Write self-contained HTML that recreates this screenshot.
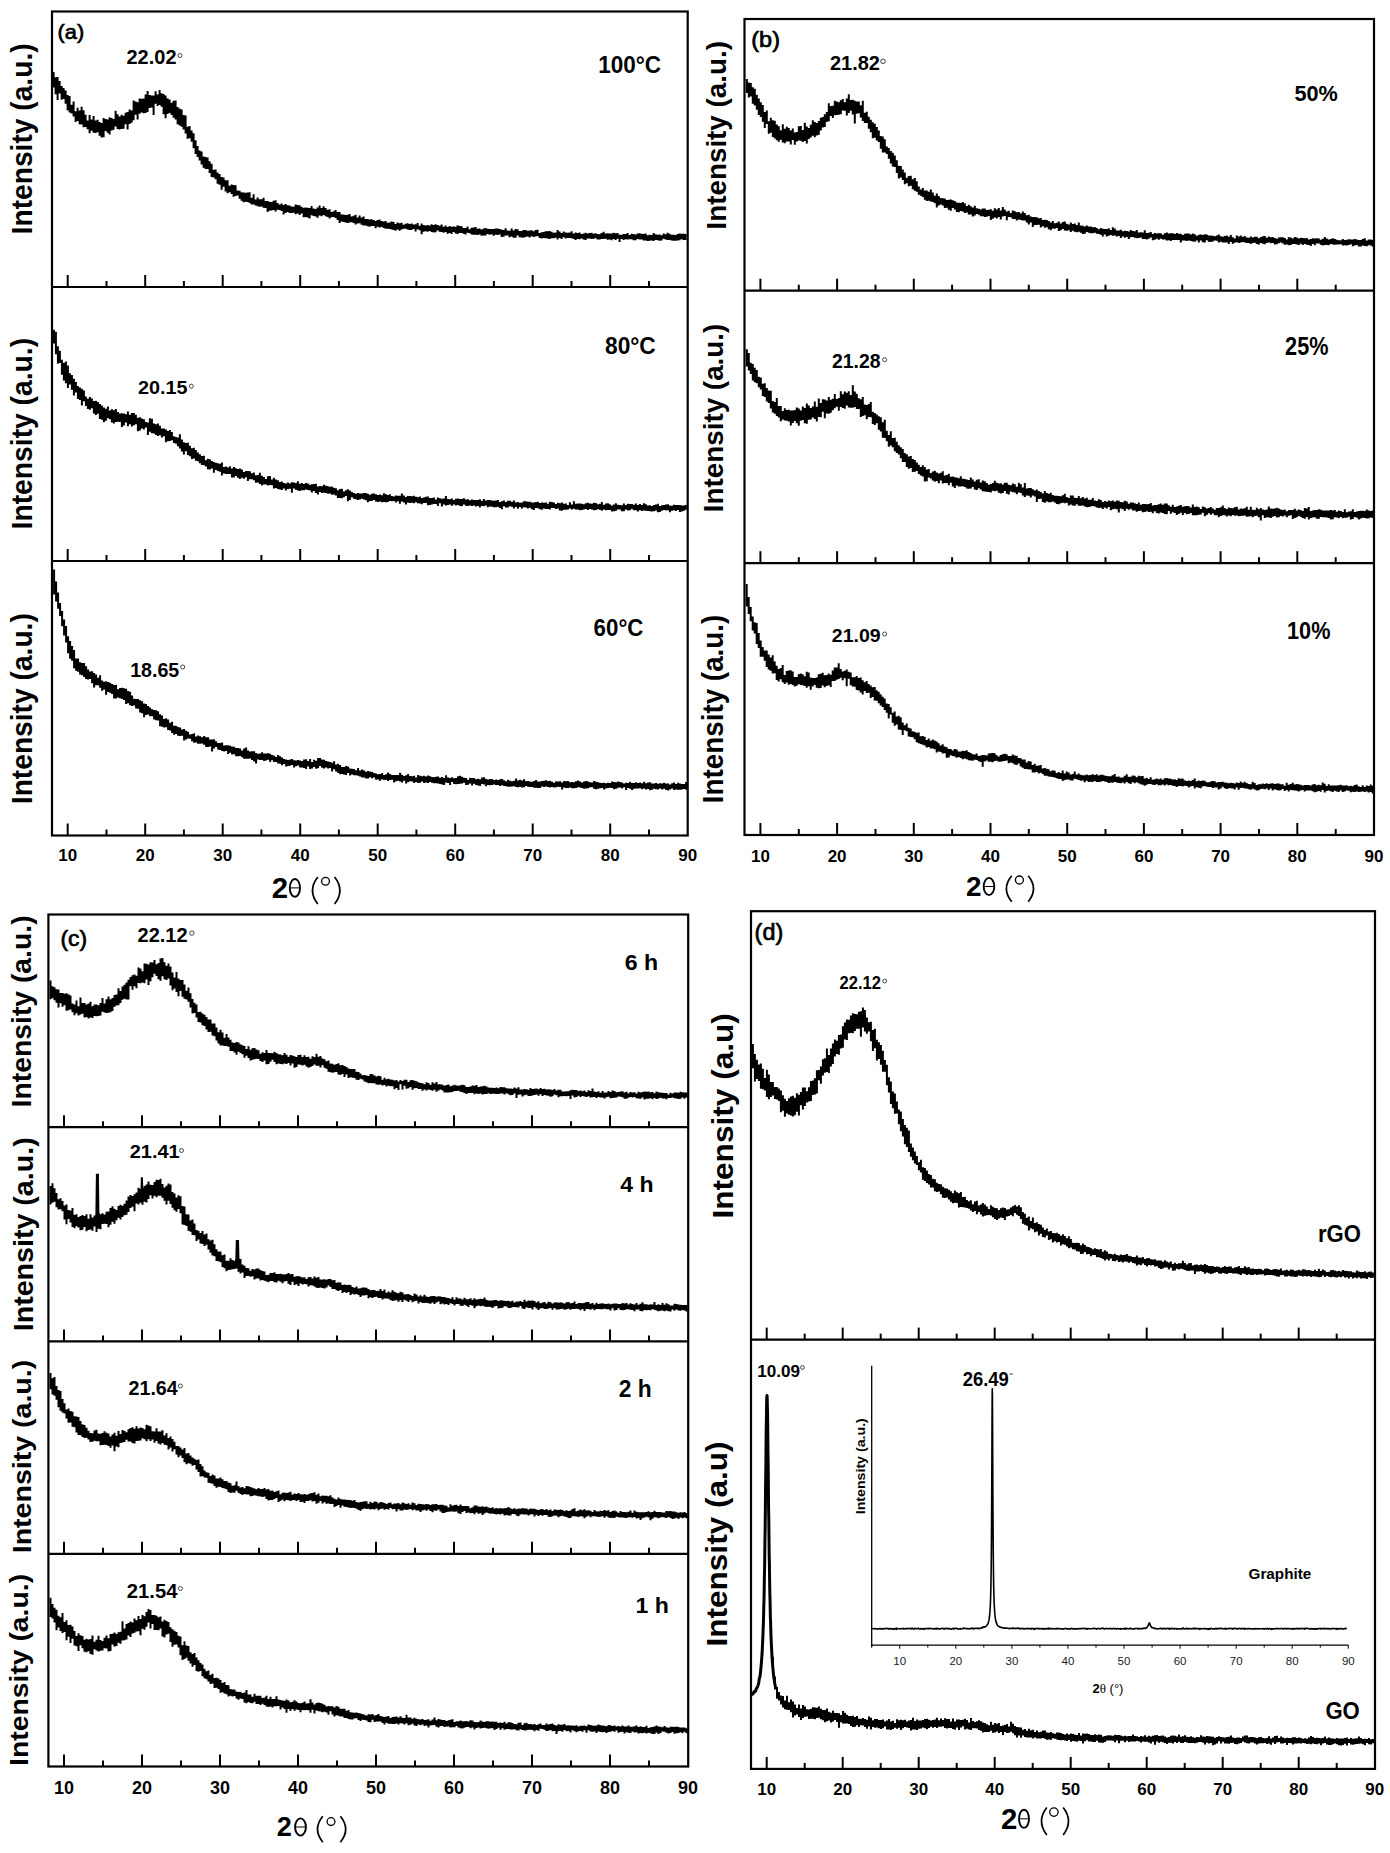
<!DOCTYPE html>
<html><head><meta charset="utf-8"><title>XRD patterns</title>
<style>
html,body{margin:0;padding:0;background:#fff;}
body{width:1390px;height:1853px;overflow:hidden;}
svg{display:block;font-family:"Liberation Sans", sans-serif;}
</style></head><body>
<svg width="1390" height="1853" viewBox="0 0 1390 1853" stroke="#000" fill="#000">
<rect x="52" y="11.5" width="635.7" height="824" fill="none" stroke-width="2.2"/>
<line x1="52" y1="287" x2="687.7" y2="287" stroke-width="2.2"/>
<line x1="52" y1="561" x2="687.7" y2="561" stroke-width="2.2"/>
<line x1="67.7" y1="287" x2="67.7" y2="275" stroke-width="2"/>
<line x1="106.5" y1="287" x2="106.5" y2="281" stroke-width="2"/>
<line x1="145.2" y1="287" x2="145.2" y2="275" stroke-width="2"/>
<line x1="183.9" y1="287" x2="183.9" y2="281" stroke-width="2"/>
<line x1="222.7" y1="287" x2="222.7" y2="275" stroke-width="2"/>
<line x1="261.4" y1="287" x2="261.4" y2="281" stroke-width="2"/>
<line x1="300.2" y1="287" x2="300.2" y2="275" stroke-width="2"/>
<line x1="338.9" y1="287" x2="338.9" y2="281" stroke-width="2"/>
<line x1="377.7" y1="287" x2="377.7" y2="275" stroke-width="2"/>
<line x1="416.4" y1="287" x2="416.4" y2="281" stroke-width="2"/>
<line x1="455.2" y1="287" x2="455.2" y2="275" stroke-width="2"/>
<line x1="493.9" y1="287" x2="493.9" y2="281" stroke-width="2"/>
<line x1="532.7" y1="287" x2="532.7" y2="275" stroke-width="2"/>
<line x1="571.5" y1="287" x2="571.5" y2="281" stroke-width="2"/>
<line x1="610.2" y1="287" x2="610.2" y2="275" stroke-width="2"/>
<line x1="649" y1="287" x2="649" y2="281" stroke-width="2"/>
<line x1="67.7" y1="561" x2="67.7" y2="549" stroke-width="2"/>
<line x1="106.5" y1="561" x2="106.5" y2="555" stroke-width="2"/>
<line x1="145.2" y1="561" x2="145.2" y2="549" stroke-width="2"/>
<line x1="183.9" y1="561" x2="183.9" y2="555" stroke-width="2"/>
<line x1="222.7" y1="561" x2="222.7" y2="549" stroke-width="2"/>
<line x1="261.4" y1="561" x2="261.4" y2="555" stroke-width="2"/>
<line x1="300.2" y1="561" x2="300.2" y2="549" stroke-width="2"/>
<line x1="338.9" y1="561" x2="338.9" y2="555" stroke-width="2"/>
<line x1="377.7" y1="561" x2="377.7" y2="549" stroke-width="2"/>
<line x1="416.4" y1="561" x2="416.4" y2="555" stroke-width="2"/>
<line x1="455.2" y1="561" x2="455.2" y2="549" stroke-width="2"/>
<line x1="493.9" y1="561" x2="493.9" y2="555" stroke-width="2"/>
<line x1="532.7" y1="561" x2="532.7" y2="549" stroke-width="2"/>
<line x1="571.5" y1="561" x2="571.5" y2="555" stroke-width="2"/>
<line x1="610.2" y1="561" x2="610.2" y2="549" stroke-width="2"/>
<line x1="649" y1="561" x2="649" y2="555" stroke-width="2"/>
<line x1="67.7" y1="835.5" x2="67.7" y2="823.5" stroke-width="2"/>
<line x1="106.5" y1="835.5" x2="106.5" y2="829.5" stroke-width="2"/>
<line x1="145.2" y1="835.5" x2="145.2" y2="823.5" stroke-width="2"/>
<line x1="183.9" y1="835.5" x2="183.9" y2="829.5" stroke-width="2"/>
<line x1="222.7" y1="835.5" x2="222.7" y2="823.5" stroke-width="2"/>
<line x1="261.4" y1="835.5" x2="261.4" y2="829.5" stroke-width="2"/>
<line x1="300.2" y1="835.5" x2="300.2" y2="823.5" stroke-width="2"/>
<line x1="338.9" y1="835.5" x2="338.9" y2="829.5" stroke-width="2"/>
<line x1="377.7" y1="835.5" x2="377.7" y2="823.5" stroke-width="2"/>
<line x1="416.4" y1="835.5" x2="416.4" y2="829.5" stroke-width="2"/>
<line x1="455.2" y1="835.5" x2="455.2" y2="823.5" stroke-width="2"/>
<line x1="493.9" y1="835.5" x2="493.9" y2="829.5" stroke-width="2"/>
<line x1="532.7" y1="835.5" x2="532.7" y2="823.5" stroke-width="2"/>
<line x1="571.5" y1="835.5" x2="571.5" y2="829.5" stroke-width="2"/>
<line x1="610.2" y1="835.5" x2="610.2" y2="823.5" stroke-width="2"/>
<line x1="649" y1="835.5" x2="649" y2="829.5" stroke-width="2"/>
<rect x="744.5" y="19" width="629.5" height="816" fill="none" stroke-width="2.2"/>
<line x1="744.5" y1="290.7" x2="1374" y2="290.7" stroke-width="2.2"/>
<line x1="744.5" y1="563.2" x2="1374" y2="563.2" stroke-width="2.2"/>
<line x1="760.4" y1="290.7" x2="760.4" y2="278.7" stroke-width="2"/>
<line x1="798.8" y1="290.7" x2="798.8" y2="284.7" stroke-width="2"/>
<line x1="837.1" y1="290.7" x2="837.1" y2="278.7" stroke-width="2"/>
<line x1="875.5" y1="290.7" x2="875.5" y2="284.7" stroke-width="2"/>
<line x1="913.8" y1="290.7" x2="913.8" y2="278.7" stroke-width="2"/>
<line x1="952.1" y1="290.7" x2="952.1" y2="284.7" stroke-width="2"/>
<line x1="990.5" y1="290.7" x2="990.5" y2="278.7" stroke-width="2"/>
<line x1="1028.8" y1="290.7" x2="1028.8" y2="284.7" stroke-width="2"/>
<line x1="1067.2" y1="290.7" x2="1067.2" y2="278.7" stroke-width="2"/>
<line x1="1105.5" y1="290.7" x2="1105.5" y2="284.7" stroke-width="2"/>
<line x1="1143.9" y1="290.7" x2="1143.9" y2="278.7" stroke-width="2"/>
<line x1="1182.2" y1="290.7" x2="1182.2" y2="284.7" stroke-width="2"/>
<line x1="1220.6" y1="290.7" x2="1220.6" y2="278.7" stroke-width="2"/>
<line x1="1259" y1="290.7" x2="1259" y2="284.7" stroke-width="2"/>
<line x1="1297.3" y1="290.7" x2="1297.3" y2="278.7" stroke-width="2"/>
<line x1="1335.7" y1="290.7" x2="1335.7" y2="284.7" stroke-width="2"/>
<line x1="760.4" y1="563.2" x2="760.4" y2="551.2" stroke-width="2"/>
<line x1="798.8" y1="563.2" x2="798.8" y2="557.2" stroke-width="2"/>
<line x1="837.1" y1="563.2" x2="837.1" y2="551.2" stroke-width="2"/>
<line x1="875.5" y1="563.2" x2="875.5" y2="557.2" stroke-width="2"/>
<line x1="913.8" y1="563.2" x2="913.8" y2="551.2" stroke-width="2"/>
<line x1="952.1" y1="563.2" x2="952.1" y2="557.2" stroke-width="2"/>
<line x1="990.5" y1="563.2" x2="990.5" y2="551.2" stroke-width="2"/>
<line x1="1028.8" y1="563.2" x2="1028.8" y2="557.2" stroke-width="2"/>
<line x1="1067.2" y1="563.2" x2="1067.2" y2="551.2" stroke-width="2"/>
<line x1="1105.5" y1="563.2" x2="1105.5" y2="557.2" stroke-width="2"/>
<line x1="1143.9" y1="563.2" x2="1143.9" y2="551.2" stroke-width="2"/>
<line x1="1182.2" y1="563.2" x2="1182.2" y2="557.2" stroke-width="2"/>
<line x1="1220.6" y1="563.2" x2="1220.6" y2="551.2" stroke-width="2"/>
<line x1="1259" y1="563.2" x2="1259" y2="557.2" stroke-width="2"/>
<line x1="1297.3" y1="563.2" x2="1297.3" y2="551.2" stroke-width="2"/>
<line x1="1335.7" y1="563.2" x2="1335.7" y2="557.2" stroke-width="2"/>
<line x1="760.4" y1="835" x2="760.4" y2="823" stroke-width="2"/>
<line x1="798.8" y1="835" x2="798.8" y2="829" stroke-width="2"/>
<line x1="837.1" y1="835" x2="837.1" y2="823" stroke-width="2"/>
<line x1="875.5" y1="835" x2="875.5" y2="829" stroke-width="2"/>
<line x1="913.8" y1="835" x2="913.8" y2="823" stroke-width="2"/>
<line x1="952.1" y1="835" x2="952.1" y2="829" stroke-width="2"/>
<line x1="990.5" y1="835" x2="990.5" y2="823" stroke-width="2"/>
<line x1="1028.8" y1="835" x2="1028.8" y2="829" stroke-width="2"/>
<line x1="1067.2" y1="835" x2="1067.2" y2="823" stroke-width="2"/>
<line x1="1105.5" y1="835" x2="1105.5" y2="829" stroke-width="2"/>
<line x1="1143.9" y1="835" x2="1143.9" y2="823" stroke-width="2"/>
<line x1="1182.2" y1="835" x2="1182.2" y2="829" stroke-width="2"/>
<line x1="1220.6" y1="835" x2="1220.6" y2="823" stroke-width="2"/>
<line x1="1259" y1="835" x2="1259" y2="829" stroke-width="2"/>
<line x1="1297.3" y1="835" x2="1297.3" y2="823" stroke-width="2"/>
<line x1="1335.7" y1="835" x2="1335.7" y2="829" stroke-width="2"/>
<rect x="48.4" y="914.5" width="639.8" height="852" fill="none" stroke-width="2.2"/>
<line x1="48.4" y1="1127.2" x2="688.2" y2="1127.2" stroke-width="2.2"/>
<line x1="48.4" y1="1341.4" x2="688.2" y2="1341.4" stroke-width="2.2"/>
<line x1="48.4" y1="1553.8" x2="688.2" y2="1553.8" stroke-width="2.2"/>
<line x1="64" y1="1127.2" x2="64" y2="1115.2" stroke-width="2"/>
<line x1="103" y1="1127.2" x2="103" y2="1121.2" stroke-width="2"/>
<line x1="142" y1="1127.2" x2="142" y2="1115.2" stroke-width="2"/>
<line x1="181" y1="1127.2" x2="181" y2="1121.2" stroke-width="2"/>
<line x1="220" y1="1127.2" x2="220" y2="1115.2" stroke-width="2"/>
<line x1="259" y1="1127.2" x2="259" y2="1121.2" stroke-width="2"/>
<line x1="298" y1="1127.2" x2="298" y2="1115.2" stroke-width="2"/>
<line x1="337" y1="1127.2" x2="337" y2="1121.2" stroke-width="2"/>
<line x1="376" y1="1127.2" x2="376" y2="1115.2" stroke-width="2"/>
<line x1="415" y1="1127.2" x2="415" y2="1121.2" stroke-width="2"/>
<line x1="454" y1="1127.2" x2="454" y2="1115.2" stroke-width="2"/>
<line x1="493" y1="1127.2" x2="493" y2="1121.2" stroke-width="2"/>
<line x1="532" y1="1127.2" x2="532" y2="1115.2" stroke-width="2"/>
<line x1="571" y1="1127.2" x2="571" y2="1121.2" stroke-width="2"/>
<line x1="610" y1="1127.2" x2="610" y2="1115.2" stroke-width="2"/>
<line x1="649" y1="1127.2" x2="649" y2="1121.2" stroke-width="2"/>
<line x1="64" y1="1341.4" x2="64" y2="1329.4" stroke-width="2"/>
<line x1="103" y1="1341.4" x2="103" y2="1335.4" stroke-width="2"/>
<line x1="142" y1="1341.4" x2="142" y2="1329.4" stroke-width="2"/>
<line x1="181" y1="1341.4" x2="181" y2="1335.4" stroke-width="2"/>
<line x1="220" y1="1341.4" x2="220" y2="1329.4" stroke-width="2"/>
<line x1="259" y1="1341.4" x2="259" y2="1335.4" stroke-width="2"/>
<line x1="298" y1="1341.4" x2="298" y2="1329.4" stroke-width="2"/>
<line x1="337" y1="1341.4" x2="337" y2="1335.4" stroke-width="2"/>
<line x1="376" y1="1341.4" x2="376" y2="1329.4" stroke-width="2"/>
<line x1="415" y1="1341.4" x2="415" y2="1335.4" stroke-width="2"/>
<line x1="454" y1="1341.4" x2="454" y2="1329.4" stroke-width="2"/>
<line x1="493" y1="1341.4" x2="493" y2="1335.4" stroke-width="2"/>
<line x1="532" y1="1341.4" x2="532" y2="1329.4" stroke-width="2"/>
<line x1="571" y1="1341.4" x2="571" y2="1335.4" stroke-width="2"/>
<line x1="610" y1="1341.4" x2="610" y2="1329.4" stroke-width="2"/>
<line x1="649" y1="1341.4" x2="649" y2="1335.4" stroke-width="2"/>
<line x1="64" y1="1553.8" x2="64" y2="1541.8" stroke-width="2"/>
<line x1="103" y1="1553.8" x2="103" y2="1547.8" stroke-width="2"/>
<line x1="142" y1="1553.8" x2="142" y2="1541.8" stroke-width="2"/>
<line x1="181" y1="1553.8" x2="181" y2="1547.8" stroke-width="2"/>
<line x1="220" y1="1553.8" x2="220" y2="1541.8" stroke-width="2"/>
<line x1="259" y1="1553.8" x2="259" y2="1547.8" stroke-width="2"/>
<line x1="298" y1="1553.8" x2="298" y2="1541.8" stroke-width="2"/>
<line x1="337" y1="1553.8" x2="337" y2="1547.8" stroke-width="2"/>
<line x1="376" y1="1553.8" x2="376" y2="1541.8" stroke-width="2"/>
<line x1="415" y1="1553.8" x2="415" y2="1547.8" stroke-width="2"/>
<line x1="454" y1="1553.8" x2="454" y2="1541.8" stroke-width="2"/>
<line x1="493" y1="1553.8" x2="493" y2="1547.8" stroke-width="2"/>
<line x1="532" y1="1553.8" x2="532" y2="1541.8" stroke-width="2"/>
<line x1="571" y1="1553.8" x2="571" y2="1547.8" stroke-width="2"/>
<line x1="610" y1="1553.8" x2="610" y2="1541.8" stroke-width="2"/>
<line x1="649" y1="1553.8" x2="649" y2="1547.8" stroke-width="2"/>
<line x1="64" y1="1766.5" x2="64" y2="1754.5" stroke-width="2"/>
<line x1="103" y1="1766.5" x2="103" y2="1760.5" stroke-width="2"/>
<line x1="142" y1="1766.5" x2="142" y2="1754.5" stroke-width="2"/>
<line x1="181" y1="1766.5" x2="181" y2="1760.5" stroke-width="2"/>
<line x1="220" y1="1766.5" x2="220" y2="1754.5" stroke-width="2"/>
<line x1="259" y1="1766.5" x2="259" y2="1760.5" stroke-width="2"/>
<line x1="298" y1="1766.5" x2="298" y2="1754.5" stroke-width="2"/>
<line x1="337" y1="1766.5" x2="337" y2="1760.5" stroke-width="2"/>
<line x1="376" y1="1766.5" x2="376" y2="1754.5" stroke-width="2"/>
<line x1="415" y1="1766.5" x2="415" y2="1760.5" stroke-width="2"/>
<line x1="454" y1="1766.5" x2="454" y2="1754.5" stroke-width="2"/>
<line x1="493" y1="1766.5" x2="493" y2="1760.5" stroke-width="2"/>
<line x1="532" y1="1766.5" x2="532" y2="1754.5" stroke-width="2"/>
<line x1="571" y1="1766.5" x2="571" y2="1760.5" stroke-width="2"/>
<line x1="610" y1="1766.5" x2="610" y2="1754.5" stroke-width="2"/>
<line x1="649" y1="1766.5" x2="649" y2="1760.5" stroke-width="2"/>
<rect x="751" y="911.2" width="624" height="857.7" fill="none" stroke-width="2.2"/>
<line x1="751" y1="1339.6" x2="1375" y2="1339.6" stroke-width="2.2"/>
<line x1="766.7" y1="1339.6" x2="766.7" y2="1327.6" stroke-width="2"/>
<line x1="804.7" y1="1339.6" x2="804.7" y2="1333.6" stroke-width="2"/>
<line x1="842.7" y1="1339.6" x2="842.7" y2="1327.6" stroke-width="2"/>
<line x1="880.7" y1="1339.6" x2="880.7" y2="1333.6" stroke-width="2"/>
<line x1="918.7" y1="1339.6" x2="918.7" y2="1327.6" stroke-width="2"/>
<line x1="956.7" y1="1339.6" x2="956.7" y2="1333.6" stroke-width="2"/>
<line x1="994.7" y1="1339.6" x2="994.7" y2="1327.6" stroke-width="2"/>
<line x1="1032.7" y1="1339.6" x2="1032.7" y2="1333.6" stroke-width="2"/>
<line x1="1070.7" y1="1339.6" x2="1070.7" y2="1327.6" stroke-width="2"/>
<line x1="1108.7" y1="1339.6" x2="1108.7" y2="1333.6" stroke-width="2"/>
<line x1="1146.7" y1="1339.6" x2="1146.7" y2="1327.6" stroke-width="2"/>
<line x1="1184.7" y1="1339.6" x2="1184.7" y2="1333.6" stroke-width="2"/>
<line x1="1222.7" y1="1339.6" x2="1222.7" y2="1327.6" stroke-width="2"/>
<line x1="1260.7" y1="1339.6" x2="1260.7" y2="1333.6" stroke-width="2"/>
<line x1="1298.7" y1="1339.6" x2="1298.7" y2="1327.6" stroke-width="2"/>
<line x1="1336.7" y1="1339.6" x2="1336.7" y2="1333.6" stroke-width="2"/>
<line x1="766.7" y1="1768.9" x2="766.7" y2="1756.9" stroke-width="2"/>
<line x1="804.7" y1="1768.9" x2="804.7" y2="1762.9" stroke-width="2"/>
<line x1="842.7" y1="1768.9" x2="842.7" y2="1756.9" stroke-width="2"/>
<line x1="880.7" y1="1768.9" x2="880.7" y2="1762.9" stroke-width="2"/>
<line x1="918.7" y1="1768.9" x2="918.7" y2="1756.9" stroke-width="2"/>
<line x1="956.7" y1="1768.9" x2="956.7" y2="1762.9" stroke-width="2"/>
<line x1="994.7" y1="1768.9" x2="994.7" y2="1756.9" stroke-width="2"/>
<line x1="1032.7" y1="1768.9" x2="1032.7" y2="1762.9" stroke-width="2"/>
<line x1="1070.7" y1="1768.9" x2="1070.7" y2="1756.9" stroke-width="2"/>
<line x1="1108.7" y1="1768.9" x2="1108.7" y2="1762.9" stroke-width="2"/>
<line x1="1146.7" y1="1768.9" x2="1146.7" y2="1756.9" stroke-width="2"/>
<line x1="1184.7" y1="1768.9" x2="1184.7" y2="1762.9" stroke-width="2"/>
<line x1="1222.7" y1="1768.9" x2="1222.7" y2="1756.9" stroke-width="2"/>
<line x1="1260.7" y1="1768.9" x2="1260.7" y2="1762.9" stroke-width="2"/>
<line x1="1298.7" y1="1768.9" x2="1298.7" y2="1756.9" stroke-width="2"/>
<line x1="1336.7" y1="1768.9" x2="1336.7" y2="1762.9" stroke-width="2"/>
<path d="M52.6,72.1h2V77.2h2V77h2V81h2V85.9h2V88.1h2V90.4h2V95.1h2V95.9h2V104.7h2V101.6h2V111.2h2V107.8h2V110.4h2V106.8h2V110.2h2V114.7h2V120.4h2V114.9h2V119.4h2V115.9h2V120.5h2V119.8h2V121.9h2V122.9h2V117.9h2V119.1h2V119.6h2V117.3h2V118h2V119.1h2V110.8h2V114.2h2V116.5h2V114.8h2V115.7h2V112.7h2V112.1h2V109.5h2V110.4h2V100.4h2V101.5h2V102.2h2V98.5h2V98.7h2V98.5h2V94.6h2V90.9h2V94.9h2V95.5h2V95.4h2V91.2h2V94.6h2V90.1h2V93.2h2V94h2V95.6h2V98.6h2V99.5h2V102.8h2V100.7h2V100.5h2V107.1h2V108.6h2V109.6h2V115h2V115.6h2V126.8h2V125.9h2V130.6h2V133.3h2V140.2h2V145.9h2V150.4h2V151.6h2V156.4h2V157h2V157.5h2V161.2h2V163.7h2V169.8h2V169.4h2V172.6h2V174.1h2V177h2V177.6h2V180.2h2V180.3h2V185.7h2V184.5h2V185.1h2V185.3h2V190.5h2V190.8h2V192.2h2V192.5h2V192.7h2V192.5h2V192.3h2V197.8h2V194.2h2V199.6h2V197.6h2V199.2h2V199.2h2V197.7h2V201h2V201h2V201.7h2V202h2V200.7h2V200.2h2V203h2V204.5h2V203.6h2V204.9h2V204.1h2V205.2h2V205.4h2V206.4h2V206.8h2V204.5h2V205h2V205.3h2V206.7h2V207.8h2V207.4h2V207.7h2V208.1h2V206h2V208.6h2V209.1h2V207.5h2V205.4h2V207.9h2V206.3h2V208.1h2V209.8h2V209.2h2V212.1h2V211.3h2V209.9h2V212.1h2V212.1h2V214.5h2V214.4h2V214.9h2V214.8h2V214h2V216.5h2V215.8h2V214.8h2V217.6h2V215.6h2V217.6h2V216.5h2V219h2V218.9h2V219.4h2V219.2h2V220.1h2V221h2V220h2V219.6h2V221.1h2V221.4h2V220.9h2V222.8h2V222.6h2V221.6h2V221.9h2V223.9h2V222.6h2V223.3h2V222.8h2V224.7h2V223.7h2V223.2h2V224.1h2V223.5h2V224.5h2V224.3h2V223.1h2V225.8h2V223.5h2V224.9h2V225.6h2V225.1h2V225.5h2V224.2h2V224.9h2V224.3h2V225.1h2V225.7h2V224.5h2V226.7h2V225.4h2V227.1h2V226.1h2V226.8h2V226.4h2V226.8h2V225.3h2V226.1h2V226.3h2V227.9h2V227.9h2V226.4h2V229.2h2V227.7h2V227.4h2V226.9h2V228.7h2V228.6h2V229.5h2V228.4h2V228.1h2V228.7h2V229.1h2V229h2V229.1h2V228.5h2V228.6h2V228.9h2V229.6h2V230.1h2V228.3h2V230.5h2V230.7h2V228.5h2V230.4h2V228.9h2V229.3h2V231h2V230.9h2V229.9h2V230.1h2V230.8h2V230.4h2V230.3h2V231.3h2V230h2V229.8h2V233.1h2V232.2h2V231.9h2V231.2h2V231.2h2V230.9h2V231.7h2V232.7h2V232.4h2V230h2V231.5h2V232.9h2V231.4h2V232.6h2V232.7h2V232.4h2V231.2h2V233.5h2V232.6h2V232.9h2V232.5h2V233.9h2V233.6h2V232.7h2V233.6h2V232.9h2V232.8h2V233.7h2V233.2h2V234.1h2V234.3h2V233.1h2V231.7h2V233.4h2V233.3h2V233.4h2V233.5h2V232.7h2V233.3h2V232.9h2V234.7h2V234.8h2V233.9h2V234.1h2V233h2V235h2V233.8h2V234.1h2V234.5h2V233.6h2V233.2h2V233.7h2V234h2V233.6h2V235.3h2V234.7h2V234.9h2V232.9h2V234.3h2V234.7h2V234.5h2V235.2h2V233.5h2V234.3h2V232.7h2V233.7h2V234.7h2V234.8h2V234.9h2V234.1h2V233.5h2V233.8h2V233.7h2V234.1h2V240h-2V240h-2V239.3h-2V240.2h-2V240.5h-2V240.8h-2V240.7h-2V240.5h-2V239.9h-2V240.1h-2V239.6h-2V238.8h-2V240.6h-2V240.8h-2V240.3h-2V239.9h-2V241h-2V240.5h-2V240.8h-2V241h-2V240.5h-2V240.6h-2V239.5h-2V239.4h-2V239.1h-2V240.3h-2V240.3h-2V239.2h-2V239.3h-2V239.6h-2V239.3h-2V240h-2V239.1h-2V242h-2V238.7h-2V239.9h-2V239.1h-2V240.2h-2V239.5h-2V239.7h-2V238.8h-2V239h-2V239.1h-2V239.6h-2V239.4h-2V238.3h-2V238.7h-2V239.1h-2V238.6h-2V238.5h-2V239.9h-2V239.6h-2V238.4h-2V239.3h-2V238.9h-2V239.9h-2V239.1h-2V238.2h-2V238.1h-2V238.1h-2V238.4h-2V237.2h-2V239h-2V237.9h-2V239.5h-2V237.8h-2V238.3h-2V238.3h-2V239.1h-2V238.5h-2V238.2h-2V237.9h-2V238.5h-2V238h-2V235.9h-2V236.6h-2V237h-2V236.2h-2V237.4h-2V236.4h-2V237.1h-2V237.7h-2V237.4h-2V237.2h-2V235.4h-2V237.7h-2V237.8h-2V236.4h-2V237.3h-2V235.5h-2V235.4h-2V236.7h-2V237h-2V234.6h-2V235.1h-2V234.8h-2V235.8h-2V234.3h-2V234.8h-2V234.1h-2V235.5h-2V235.5h-2V235.8h-2V234.5h-2V235.1h-2V234.8h-2V234.7h-2V234.5h-2V233.2h-2V232.7h-2V234.4h-2V233.8h-2V233.1h-2V232.9h-2V233.9h-2V233.5h-2V232.1h-2V234h-2V233.1h-2V233.7h-2V232h-2V232.7h-2V232.1h-2V231.8h-2V230.4h-2V232.2h-2V232.5h-2V232.1h-2V231.1h-2V231.8h-2V231.2h-2V231.7h-2V234.3h-2V230.3h-2V229.3h-2V231.5h-2V228.9h-2V229.9h-2V229.9h-2V229.6h-2V228.7h-2V228.7h-2V229.4h-2V230.8h-2V229.5h-2V230.8h-2V230h-2V229.5h-2V228.9h-2V228.7h-2V228.7h-2V228h-2V226.9h-2V227.5h-2V226.8h-2V228.2h-2V225.9h-2V226.1h-2V226.7h-2V226.3h-2V225.5h-2V225.4h-2V224.8h-2V223.3h-2V223.4h-2V224.5h-2V223.1h-2V222.3h-2V222.4h-2V223.1h-2V222.5h-2V221.9h-2V221.4h-2V223.1h-2V220h-2V217.9h-2V216.9h-2V217.2h-2V218.6h-2V217h-2V216.2h-2V215h-2V216.3h-2V215.5h-2V217.8h-2V216.6h-2V216h-2V215.2h-2V218.4h-2V217.4h-2V217h-2V217.2h-2V213.6h-2V215.1h-2V213.5h-2V214.3h-2V212.7h-2V213h-2V213h-2V212.1h-2V213h-2V214.6h-2V211h-2V210h-2V209.8h-2V211.5h-2V209.9h-2V210.4h-2V210.8h-2V212h-2V208h-2V207.8h-2V206.6h-2V206.7h-2V206.2h-2V205.6h-2V204.6h-2V204.6h-2V203h-2V202.1h-2V201.8h-2V202.2h-2V200.7h-2V198.7h-2V195.4h-2V196.1h-2V196.8h-2V194h-2V192.2h-2V193.3h-2V191.6h-2V186.7h-2V189.7h-2V184.8h-2V183.7h-2V179.3h-2V177.5h-2V177.1h-2V173.1h-2V169.1h-2V169.1h-2V167.8h-2V164.6h-2V160.4h-2V157h-2V154h-2V148.3h-2V141.7h-2V138.3h-2V138.7h-2V133.4h-2V129.4h-2V126.8h-2V125.4h-2V124.3h-2V119.6h-2V117.8h-2V115h-2V113h-2V114h-2V118.3h-2V114.2h-2V106.8h-2V105h-2V106h-2V103.7h-2V115h-2V107.6h-2V108.1h-2V111.9h-2V113h-2V113.2h-2V112.6h-2V113.7h-2V119.4h-2V114.7h-2V120.2h-2V122.8h-2V124h-2V129.4h-2V124.3h-2V128.8h-2V129h-2V129.5h-2V128.9h-2V126.6h-2V129.8h-2V130.6h-2V134.4h-2V132.8h-2V130.9h-2V137.2h-2V137.4h-2V135.7h-2V132.3h-2V132.9h-2V132.7h-2V130.7h-2V133.2h-2V129.3h-2V127h-2V127.2h-2V124.5h-2V124.3h-2V121.1h-2V121.9h-2V116.6h-2V113.4h-2V112.6h-2V110.3h-2V103.8h-2V98.9h-2V99.7h-2V93.6h-2V99.9h-2V94.3h-2V87.6h-2Z" stroke="none"/>
<path d="M52.9,329.8h2V331.8h2V346.2h2V350.7h2V359.8h2V362.7h2V361.5h2V365.6h2V373.2h2V374.9h2V378.8h2V381.9h2V385.9h2V387.6h2V388.8h2V390.5h2V396.4h2V398.7h2V396.9h2V398.6h2V401.1h2V400.8h2V402.1h2V404h2V405.6h2V407.4h2V408.8h2V406.5h2V410.5h2V409.2h2V410.2h2V409.1h2V411.9h2V413.5h2V413.2h2V413.6h2V414.2h2V411.5h2V414.7h2V412.9h2V413.1h2V414.8h2V417.8h2V417.2h2V418.6h2V419.2h2V421.9h2V422.5h2V418.3h2V418.7h2V423.5h2V424.3h2V423.6h2V425.8h2V428.5h2V428.5h2V429.4h2V431h2V430.1h2V432.1h2V436.3h2V437.1h2V437.6h2V434.3h2V439.4h2V442.2h2V442.9h2V442.7h2V445.8h2V448.3h2V447.7h2V450.1h2V452.6h2V454.3h2V456h2V455.8h2V460.2h2V458.7h2V459.2h2V461h2V462.1h2V462.7h2V463.2h2V463.7h2V462.4h2V467.1h2V466.4h2V467.5h2V466.2h2V468.4h2V467h2V468.3h2V469h2V468.5h2V469.4h2V472.1h2V470.9h2V470.9h2V471.3h2V473.2h2V472.6h2V475.2h2V475.1h2V472.8h2V475.7h2V477.1h2V478.9h2V476.2h2V475.9h2V479.4h2V477.7h2V479.5h2V480.2h2V482.1h2V481.4h2V482.9h2V483.5h2V482.5h2V483.5h2V482.2h2V482.5h2V482.9h2V481.3h2V483.7h2V483.1h2V484.1h2V483h2V483.4h2V484.8h2V484.2h2V483.9h2V483.8h2V486.4h2V485.9h2V486.3h2V484.8h2V485.8h2V486.2h2V486.8h2V486.6h2V487.7h2V488.3h2V490.2h2V489h2V488.8h2V491.5h2V490.3h2V489.3h2V490.4h2V492h2V493h2V493.8h2V493h2V493.5h2V493.6h2V493.1h2V492.9h2V493.7h2V494.7h2V493.7h2V493.6h2V494.3h2V494.9h2V494.4h2V495.2h2V493.2h2V494.2h2V495.1h2V494.3h2V496h2V496.5h2V495.4h2V495.7h2V495.7h2V493.5h2V495.6h2V496.9h2V495.9h2V496.1h2V496.3h2V495.8h2V496.7h2V497.3h2V496.6h2V498h2V497.5h2V496.7h2V496.5h2V498.1h2V497.9h2V497.6h2V499.4h2V497.4h2V498.2h2V498.7h2V498.5h2V496.1h2V499h2V499.2h2V498.5h2V500.1h2V498.7h2V498.5h2V499.1h2V499h2V498.3h2V499.6h2V499.3h2V500.3h2V499.4h2V500h2V500.1h2V500h2V499.3h2V500.8h2V499.1h2V500.6h2V500h2V500.1h2V500.6h2V500.7h2V500.4h2V499.9h2V502.1h2V501.3h2V500.5h2V501.9h2V500.8h2V500.8h2V501.8h2V500.6h2V502.4h2V502h2V502.7h2V502.4h2V501.3h2V501.3h2V501.7h2V501.8h2V502.6h2V502.5h2V502h2V501.7h2V502.9h2V502.4h2V502.8h2V502.5h2V503.7h2V501.7h2V502h2V502.5h2V503.9h2V502.8h2V503.3h2V502.4h2V503.7h2V503.4h2V504.9h2V502.3h2V504.5h2V501.3h2V503.8h2V503.4h2V503.4h2V503.8h2V504.2h2V503.2h2V502.7h2V503.5h2V503.7h2V502.8h2V503.1h2V504.2h2V503.8h2V501.9h2V504.8h2V503.6h2V503.2h2V504.2h2V505.5h2V504.5h2V503.3h2V504.7h2V505h2V505.2h2V503.4h2V505.1h2V503.8h2V504.1h2V503.9h2V504.8h2V503.6h2V505.1h2V503.9h2V504.9h2V503.2h2V504.2h2V505.6h2V505.2h2V506.1h2V505h2V504.5h2V503.8h2V506h2V505.2h2V505h2V504.5h2V504.2h2V505.4h2V505.8h2V504.7h2V505.1h2V505.1h2V505.1h2V505.5h2V505.4h2V505h2V509.7h-2V510.8h-2V511.6h-2V512.1h-2V510.1h-2V510.9h-2V510.3h-2V510.7h-2V512.3h-2V510.2h-2V510.4h-2V510h-2V510.7h-2V512.1h-2V512.2h-2V510.6h-2V511.2h-2V511.5h-2V511.2h-2V510.9h-2V510.8h-2V510.5h-2V510.9h-2V510.2h-2V511.4h-2V510.2h-2V510.3h-2V508.9h-2V510.3h-2V510.6h-2V509.6h-2V511.3h-2V511.3h-2V509.5h-2V509.5h-2V510.7h-2V511.3h-2V511.4h-2V510.1h-2V509.9h-2V510.3h-2V509.5h-2V510.8h-2V509.7h-2V509.2h-2V510h-2V510.2h-2V509.6h-2V509h-2V510h-2V509.1h-2V509.5h-2V509.9h-2V510.3h-2V509.5h-2V509.4h-2V508.7h-2V509.6h-2V508.6h-2V509.5h-2V509.8h-2V509.8h-2V510.7h-2V510.6h-2V508.4h-2V509.1h-2V508h-2V507.9h-2V509.6h-2V509.1h-2V508.9h-2V508.5h-2V509.7h-2V509.3h-2V508.2h-2V508h-2V509.9h-2V509.2h-2V507.7h-2V508.5h-2V507.4h-2V507.2h-2V508.5h-2V507.1h-2V508.7h-2V506.9h-2V508.5h-2V506.7h-2V506.2h-2V507.6h-2V507.4h-2V506.3h-2V509.3h-2V507.9h-2V506.7h-2V507.2h-2V507.2h-2V506.7h-2V506.6h-2V507.2h-2V505.5h-2V506.3h-2V506h-2V507.5h-2V506.1h-2V506.6h-2V505.4h-2V506.1h-2V505.4h-2V505.9h-2V505.7h-2V504.4h-2V506.3h-2V505.9h-2V505h-2V505.4h-2V504.5h-2V505.8h-2V504.5h-2V504.9h-2V505.5h-2V504.4h-2V506.5h-2V503.3h-2V505.9h-2V504h-2V503.9h-2V504.4h-2V505h-2V505.3h-2V502.9h-2V503.1h-2V504.2h-2V503.6h-2V503.3h-2V502.3h-2V503.2h-2V502.8h-2V503.1h-2V502.6h-2V504.6h-2V502.6h-2V501.4h-2V503.8h-2V501.2h-2V502.4h-2V501h-2V501.2h-2V501h-2V502.1h-2V502.3h-2V502.1h-2V502.3h-2V501.4h-2V502.1h-2V501.4h-2V500.1h-2V501.1h-2V501.1h-2V502.2h-2V500.3h-2V499.5h-2V498.8h-2V499.4h-2V500.1h-2V499.2h-2V498.8h-2V497.2h-2V500h-2V501.3h-2V495.9h-2V497.3h-2V498.2h-2V498h-2V498h-2V495.6h-2V494.5h-2V494.8h-2V493.4h-2V493.7h-2V493h-2V492.8h-2V492.9h-2V492.1h-2V494.5h-2V493.1h-2V491.1h-2V492.6h-2V490.5h-2V490.1h-2V489.5h-2V490.3h-2V490.2h-2V491.1h-2V490.6h-2V489.7h-2V488.5h-2V492.8h-2V488.7h-2V488.9h-2V490.5h-2V488.5h-2V490.1h-2V489.5h-2V489.1h-2V488.1h-2V488.4h-2V485.2h-2V485h-2V485.5h-2V484.5h-2V484.4h-2V485.4h-2V484h-2V482.4h-2V482.7h-2V480.3h-2V479.3h-2V479.3h-2V481h-2V477.2h-2V478.8h-2V477.8h-2V479.1h-2V477.7h-2V476.1h-2V477.6h-2V477.5h-2V474.1h-2V474h-2V473.9h-2V473.4h-2V475.5h-2V471.8h-2V471.1h-2V469.9h-2V472.7h-2V468.5h-2V469.6h-2V469.3h-2V466.4h-2V465.3h-2V464.9h-2V463.3h-2V461.2h-2V460.7h-2V458.4h-2V458.9h-2V456.2h-2V454.9h-2V451.3h-2V454.5h-2V451.5h-2V448.4h-2V446.2h-2V443.8h-2V443.1h-2V440.2h-2V440.9h-2V441.2h-2V442.2h-2V436.3h-2V437.5h-2V435.3h-2V436.1h-2V434.9h-2V433.4h-2V433.2h-2V431.8h-2V434.9h-2V427.5h-2V429.6h-2V428.6h-2V430.5h-2V431.2h-2V424.3h-2V425.3h-2V426.5h-2V424.2h-2V426.3h-2V422.5h-2V425.5h-2V427.1h-2V422h-2V421.8h-2V421.9h-2V423.5h-2V422.6h-2V419.2h-2V418.2h-2V420.8h-2V422.2h-2V419.8h-2V418.9h-2V413.7h-2V415.1h-2V413.5h-2V408.2h-2V409.7h-2V408.9h-2V405.9h-2V401.2h-2V405.4h-2V400h-2V399h-2V392.6h-2V395.4h-2V389.8h-2V384.4h-2V388h-2V383.3h-2V380.4h-2V374.8h-2V363h-2V363.8h-2V354.2h-2V343.6h-2Z" stroke="none"/>
<path d="M53.1,569.6h2V581.6h2V592.4h2V603h2V611h2V619.6h2V625.9h2V636.3h2V641h2V646.1h2V649.9h2V658.6h2V658.4h2V662.3h2V663h2V663.1h2V666.3h2V669.4h2V671.4h2V671.3h2V672.9h2V674.5h2V677.8h2V675.3h2V680.4h2V681.7h2V681.2h2V682h2V682.8h2V684h2V684.9h2V684.7h2V689.2h2V687.9h2V687.7h2V688.3h2V688.8h2V690.9h2V691.8h2V695.6h2V698.7h2V699.1h2V698.9h2V700.2h2V701.3h2V703.6h2V703.9h2V705.9h2V707.5h2V709.3h2V710.1h2V710.3h2V711.3h2V714.2h2V715.4h2V719h2V718.2h2V719.5h2V722.8h2V721.8h2V725.7h2V725.7h2V727.1h2V727.5h2V729.5h2V728.9h2V730.8h2V731.8h2V734.6h2V734.1h2V733.3h2V736.5h2V735.5h2V736.2h2V737.2h2V735.9h2V737.2h2V737.3h2V739.6h2V739.4h2V739.3h2V741.2h2V742.9h2V742.9h2V742.5h2V745.4h2V745.2h2V745.3h2V745.7h2V746.5h2V746.8h2V748.1h2V748.1h2V748.6h2V750.4h2V748.5h2V747.6h2V750.6h2V751.5h2V751.2h2V751.3h2V753h2V753.8h2V753.6h2V752.3h2V753.6h2V753.5h2V753.3h2V753.8h2V755.1h2V755.8h2V757.1h2V754.9h2V756.3h2V757.6h2V759.1h2V759.4h2V760.1h2V759.5h2V759.1h2V760.2h2V760.6h2V759.9h2V760.6h2V761h2V759.4h2V759.2h2V761h2V759h2V761.9h2V759.7h2V760.7h2V758.1h2V757.9h2V759.5h2V759.7h2V761h2V761.4h2V762h2V762.8h2V761.2h2V764.4h2V763.7h2V765.1h2V767h2V767h2V766h2V766.5h2V768.4h2V768.8h2V768.9h2V770.2h2V768h2V770.5h2V769.4h2V770.5h2V771.8h2V770.9h2V771.5h2V772h2V773h2V773.6h2V774.2h2V773.9h2V772.9h2V774.9h2V774.2h2V772.5h2V774h2V774.9h2V775h2V774.9h2V775h2V772.7h2V774.8h2V776h2V775.3h2V774.1h2V776.1h2V776.2h2V775.8h2V777.4h2V775h2V775.7h2V776.2h2V775.8h2V776.4h2V775.5h2V776.2h2V777.1h2V777.3h2V776.7h2V776.5h2V777.7h2V777h2V778h2V775.3h2V777.6h2V778.1h2V777.3h2V778.3h2V778.1h2V776.2h2V775.8h2V776.8h2V777.8h2V778.1h2V779.7h2V777.8h2V778.1h2V777.9h2V779.2h2V778.7h2V779.3h2V777.4h2V777.3h2V779.1h2V779.4h2V779.1h2V779.1h2V780.1h2V779.5h2V779.9h2V779.2h2V778.9h2V780.3h2V781.3h2V779.8h2V780.7h2V781.2h2V780.8h2V778.4h2V780.5h2V779.8h2V780.6h2V779.3h2V781.3h2V780.9h2V781.5h2V781.7h2V780.9h2V780.1h2V781.6h2V781.6h2V780.9h2V780.7h2V780.2h2V781h2V780.7h2V781.7h2V782.8h2V781.2h2V781.4h2V781.2h2V782.6h2V780.9h2V781.3h2V780.9h2V782.2h2V781.9h2V782.3h2V781.3h2V780.6h2V781.6h2V782.4h2V781.5h2V781.1h2V781.4h2V782.3h2V782.4h2V781.1h2V781.7h2V782.2h2V782.7h2V782.9h2V782.8h2V783.3h2V782.8h2V783h2V781.5h2V782h2V782.2h2V781.6h2V782.1h2V782.6h2V783.4h2V782.8h2V782.9h2V781.7h2V783h2V782.9h2V782.3h2V783h2V782.6h2V783.2h2V781.8h2V783.3h2V782.6h2V782.2h2V783.6h2V783.6h2V782.9h2V783.7h2V783.2h2V783.6h2V782.7h2V783.6h2V783.4h2V784.5h2V783.3h2V782.4h2V783.9h2V782.7h2V783.5h2V783.9h2V783.9h2V781.9h2V789.7h-2V788.9h-2V789.5h-2V789.8h-2V789.8h-2V789.4h-2V789.9h-2V788.5h-2V789.5h-2V790.6h-2V789.9h-2V788.7h-2V789.5h-2V788.4h-2V789.5h-2V789.2h-2V788.8h-2V789.8h-2V790.2h-2V789.1h-2V789.5h-2V788.4h-2V789.3h-2V788.2h-2V788.5h-2V788.6h-2V788.8h-2V790h-2V788.7h-2V788h-2V790h-2V787.3h-2V788.5h-2V787.6h-2V787.8h-2V788.7h-2V789.2h-2V787.9h-2V787.7h-2V788.1h-2V788.6h-2V789.5h-2V788.1h-2V788.2h-2V788.8h-2V789.2h-2V788.8h-2V787.2h-2V787.3h-2V788.2h-2V788.4h-2V788.8h-2V787.9h-2V787.6h-2V787.2h-2V788h-2V788.2h-2V788.2h-2V787.5h-2V787.9h-2V787.9h-2V787.6h-2V789.4h-2V787.1h-2V786.7h-2V787.2h-2V787.4h-2V787h-2V787.4h-2V786.9h-2V786.4h-2V787.1h-2V786.6h-2V787.9h-2V788.1h-2V787.8h-2V787.7h-2V787h-2V786.9h-2V786.7h-2V786.1h-2V787.2h-2V787.5h-2V786.8h-2V787.2h-2V786.9h-2V786.2h-2V786.4h-2V786.8h-2V786.8h-2V786.3h-2V786.1h-2V785.3h-2V786.1h-2V785.1h-2V785.1h-2V784.6h-2V785h-2V785.2h-2V784.9h-2V786.3h-2V784.6h-2V784.1h-2V786.1h-2V785.5h-2V785h-2V783.8h-2V785.4h-2V783.6h-2V784.8h-2V785h-2V782.7h-2V783.6h-2V783.8h-2V783.9h-2V784.3h-2V784.1h-2V781.9h-2V785.1h-2V783.1h-2V782.5h-2V785.1h-2V784.5h-2V783.9h-2V783.4h-2V783.3h-2V783.3h-2V782.8h-2V782.1h-2V782.9h-2V782.6h-2V783.1h-2V781.4h-2V782.7h-2V783h-2V781.9h-2V783.1h-2V781.6h-2V781.2h-2V782.2h-2V783.6h-2V780.8h-2V782.4h-2V781.4h-2V780.8h-2V781.2h-2V782.4h-2V779.7h-2V779.9h-2V780.9h-2V779.8h-2V780.1h-2V779.2h-2V780.7h-2V779.5h-2V779.8h-2V777.5h-2V778.2h-2V777.3h-2V778.4h-2V778.5h-2V777.4h-2V777.6h-2V776.4h-2V775.8h-2V775.3h-2V775.3h-2V774.5h-2V775.6h-2V772.9h-2V774.9h-2V774.6h-2V773.9h-2V774.2h-2V773h-2V771.6h-2V769.3h-2V771.6h-2V767.9h-2V768.5h-2V767.4h-2V768.6h-2V767.8h-2V765.9h-2V768.3h-2V768.7h-2V766.9h-2V768.4h-2V768.9h-2V766.4h-2V768.9h-2V768h-2V767.6h-2V767.6h-2V765.5h-2V766.3h-2V767.6h-2V765.1h-2V765.8h-2V765.9h-2V766.6h-2V764h-2V765.2h-2V763.7h-2V763.4h-2V761.9h-2V761.9h-2V760.2h-2V761.9h-2V759.8h-2V760.5h-2V761h-2V760.1h-2V760.1h-2V759.4h-2V763.4h-2V761.5h-2V759.9h-2V758.5h-2V758.7h-2V758.8h-2V758.7h-2V757.3h-2V756h-2V756.3h-2V756.3h-2V754.2h-2V754.4h-2V752.7h-2V753.9h-2V751h-2V751.5h-2V751h-2V750h-2V749.4h-2V747.1h-2V748.5h-2V751.4h-2V746.5h-2V746.9h-2V747.1h-2V744.7h-2V743.4h-2V743.7h-2V743.7h-2V742.6h-2V742.7h-2V741.2h-2V738.7h-2V738.6h-2V739.5h-2V740.4h-2V735.8h-2V736.1h-2V735.7h-2V733.9h-2V734.8h-2V733h-2V730.4h-2V730h-2V727.2h-2V727.4h-2V726.8h-2V726.2h-2V720.6h-2V720.2h-2V719.4h-2V716.2h-2V716.2h-2V714.6h-2V714.9h-2V717.3h-2V713.3h-2V712.6h-2V708.7h-2V708.6h-2V705.6h-2V706h-2V705.2h-2V703.3h-2V704.1h-2V700h-2V699.1h-2V698.3h-2V697.5h-2V698.4h-2V698.6h-2V693.9h-2V692.8h-2V692h-2V694.8h-2V689.5h-2V690.8h-2V687.8h-2V685.3h-2V685.2h-2V687.4h-2V683.3h-2V679.1h-2V679.5h-2V679h-2V677.1h-2V675.2h-2V674.6h-2V671.7h-2V670.7h-2V668.3h-2V660.7h-2V658.8h-2V653.2h-2V642.4h-2V635.4h-2V626.2h-2V615.9h-2V608.8h-2V601.5h-2V594.4h-2Z" stroke="none"/>
<path d="M745.8,78.9h2V82.6h2V83.1h2V87.3h2V88.7h2V94.7h2V98.4h2V102.3h2V104.9h2V111.9h2V110.5h2V121.2h2V117.8h2V120.2h2V120.7h2V124.6h2V126.2h2V130.3h2V124.3h2V128.7h2V126.7h2V127.9h2V130.5h2V128.4h2V132.4h2V132h2V126.2h2V126.1h2V130h2V122.7h2V126.6h2V128h2V124.7h2V120.2h2V122.1h2V123h2V120.9h2V117.8h2V117h2V114.3h2V111.9h2V103.3h2V106h2V105.7h2V100.7h2V101.4h2V102.3h2V100.3h2V98.9h2V102.2h2V98.4h2V94.2h2V99.9h2V99.8h2V100.8h2V101.4h2V101.5h2V105.3h2V100.8h2V112.7h2V111.8h2V116.8h2V119.8h2V122.3h2V123.8h2V127.1h2V130.5h2V136h2V136.5h2V139.2h2V146.6h2V147.9h2V151h2V152.8h2V155.6h2V160.3h2V165.8h2V165.9h2V169.6h2V172.5h2V177.8h2V176.1h2V175.7h2V179.3h2V178.1h2V181.2h2V186.6h2V189.6h2V188h2V190.6h2V190.4h2V191.7h2V189.6h2V192.5h2V195.7h2V193.6h2V196.1h2V197.9h2V198.3h2V198.5h2V200h2V199.7h2V199.5h2V200.2h2V200.9h2V202.5h2V202.7h2V203.1h2V201.9h2V203.3h2V205.9h2V204.7h2V206.2h2V207.4h2V205.7h2V208.2h2V208.8h2V209.4h2V208.5h2V208.5h2V210.1h2V209.7h2V209.3h2V210.7h2V208.2h2V209.4h2V207.9h2V210.5h2V207.1h2V209.4h2V211.6h2V210.8h2V213.1h2V210.4h2V211.3h2V212.2h2V212h2V213.6h2V211.6h2V212.9h2V215.2h2V214.8h2V216.6h2V216.9h2V217h2V217.3h2V218.3h2V218.1h2V220h2V219.7h2V219.9h2V220.9h2V222.4h2V221h2V223.3h2V222.8h2V221.6h2V223.5h2V222.1h2V221.4h2V223.8h2V224.6h2V222.6h2V223.9h2V223.5h2V225h2V222.6h2V225.5h2V225.7h2V226.5h2V225.6h2V226.5h2V226.5h2V227.2h2V227.1h2V227.9h2V229.3h2V228h2V228.8h2V229.1h2V229h2V228.3h2V230.1h2V227.3h2V228.6h2V230.5h2V230.6h2V229.7h2V231.3h2V230.8h2V231.1h2V231.6h2V230.1h2V231h2V231.2h2V229.9h2V232.4h2V232.2h2V232.5h2V230.2h2V233h2V232.8h2V232.1h2V234h2V233.1h2V233.5h2V233.2h2V233.3h2V234.8h2V233.2h2V232.5h2V233.4h2V233.3h2V233.3h2V234.1h2V232.9h2V233.8h2V233.8h2V235h2V233.8h2V233.6h2V233.5h2V234.5h2V233.6h2V234.3h2V235.8h2V234.7h2V234.6h2V234.9h2V234.3h2V234.5h2V235.4h2V235.6h2V235.7h2V236.3h2V235.4h2V234.6h2V236.3h2V236.8h2V236h2V235.6h2V236.7h2V235h2V237.2h2V238.4h2V235.4h2V236.4h2V235.6h2V236.8h2V235.9h2V237.5h2V237.8h2V236.5h2V237.4h2V236.7h2V236.8h2V238.2h2V236.9h2V236.3h2V236.1h2V237.7h2V236.6h2V237.3h2V237h2V237.9h2V238.7h2V237.5h2V237.3h2V237.3h2V237.9h2V239.4h2V237.3h2V237.5h2V238.6h2V236.9h2V237.4h2V238.5h2V237.7h2V238h2V238.2h2V237.9h2V239.6h2V238.9h2V238.3h2V238.6h2V238.3h2V238.6h2V239.7h2V238.8h2V236.9h2V238.5h2V239.4h2V239.1h2V238.3h2V238.9h2V239.8h2V240.2h2V240.3h2V238.9h2V240h2V239.8h2V239.2h2V239.4h2V239.4h2V238.9h2V239.5h2V240.1h2V240.1h2V238.9h2V238.3h2V240.6h2V239.5h2V239.6h2V240h2V246.8h-2V245.5h-2V245.2h-2V246.2h-2V246h-2V245.5h-2V246.5h-2V246.5h-2V245.1h-2V245.4h-2V246.2h-2V244.3h-2V245.1h-2V245.6h-2V245.2h-2V245.4h-2V244.3h-2V244.5h-2V244.6h-2V244.7h-2V244.4h-2V244h-2V245.3h-2V244.9h-2V244.9h-2V245.5h-2V244.8h-2V243.6h-2V243.4h-2V245.3h-2V243.9h-2V246h-2V244.9h-2V244.7h-2V244.1h-2V244.9h-2V243.7h-2V245h-2V244.6h-2V243.9h-2V243.9h-2V245h-2V245.3h-2V244.6h-2V244.8h-2V243.6h-2V242.6h-2V243.3h-2V244.2h-2V244.5h-2V243.1h-2V243.2h-2V242.4h-2V243h-2V244.3h-2V243.8h-2V243.1h-2V244.4h-2V244.1h-2V242.7h-2V243.1h-2V244h-2V243h-2V243h-2V242.6h-2V242.1h-2V242.5h-2V243h-2V242.2h-2V242.8h-2V243.8h-2V242h-2V243.9h-2V242.6h-2V242.6h-2V242.6h-2V241.7h-2V242.4h-2V240.7h-2V240.5h-2V241.5h-2V241.9h-2V241.7h-2V240.3h-2V242.6h-2V242.2h-2V240.6h-2V242.4h-2V240.4h-2V241.7h-2V241.6h-2V241.1h-2V240.6h-2V241h-2V240.6h-2V240.5h-2V242.4h-2V239.9h-2V239.9h-2V240.1h-2V240.1h-2V240.9h-2V240.2h-2V240.5h-2V239.6h-2V239.6h-2V238.8h-2V239.7h-2V238.8h-2V239.8h-2V240.3h-2V237.4h-2V238.7h-2V239.6h-2V238.9h-2V239h-2V237.4h-2V238h-2V238.3h-2V237.7h-2V236.9h-2V237.2h-2V239h-2V237.1h-2V237.8h-2V236.6h-2V238h-2V235.9h-2V236.6h-2V235.5h-2V235.7h-2V235.1h-2V235.7h-2V236.6h-2V234.5h-2V236.4h-2V234.8h-2V234.1h-2V233.7h-2V232.8h-2V233.2h-2V233.3h-2V232.7h-2V231.9h-2V233.8h-2V234h-2V232.7h-2V231.8h-2V232.3h-2V231.7h-2V230.8h-2V232.1h-2V230.2h-2V230.8h-2V230.4h-2V229h-2V230.3h-2V230.9h-2V228h-2V228.8h-2V228.5h-2V230.2h-2V229.3h-2V227.2h-2V227.7h-2V226.3h-2V227.4h-2V224.7h-2V225.1h-2V225.1h-2V227.1h-2V222.6h-2V224.4h-2V222.6h-2V220.4h-2V220.4h-2V220.1h-2V219.5h-2V220.5h-2V219.1h-2V219.1h-2V217.2h-2V217.1h-2V220.2h-2V216h-2V216.4h-2V219.6h-2V217h-2V218.5h-2V217.6h-2V218.7h-2V220h-2V216.1h-2V216.8h-2V216.9h-2V216.3h-2V216.2h-2V214.7h-2V214h-2V215.4h-2V216.5h-2V214.5h-2V214.4h-2V212.6h-2V213.1h-2V211.6h-2V211.1h-2V212.3h-2V212.1h-2V209.4h-2V208h-2V210.7h-2V209.8h-2V207.7h-2V208.1h-2V205.4h-2V204.4h-2V205.4h-2V207.5h-2V203.2h-2V202h-2V201.6h-2V200.7h-2V201h-2V199.7h-2V196.9h-2V195.7h-2V194.7h-2V191.7h-2V190.8h-2V189.2h-2V185.8h-2V186.2h-2V183.2h-2V184.3h-2V179.9h-2V177.6h-2V178.6h-2V173.1h-2V167.1h-2V166.4h-2V163.6h-2V158.7h-2V154.1h-2V152.4h-2V152.6h-2V148.7h-2V142h-2V140.4h-2V137.7h-2V138.3h-2V132.2h-2V128.7h-2V123h-2V123.1h-2V121h-2V117.6h-2V113.2h-2V113.7h-2V123.4h-2V114.5h-2V110.8h-2V113h-2V115.5h-2V110.8h-2V110.4h-2V114.3h-2V114.7h-2V115.1h-2V115.2h-2V117.9h-2V116.1h-2V121.2h-2V121.9h-2V127h-2V127.6h-2V130.6h-2V134.8h-2V135.6h-2V137.3h-2V135.8h-2V137.4h-2V139.1h-2V143.5h-2V141h-2V142.1h-2V140.8h-2V140.4h-2V141.5h-2V144.8h-2V139.9h-2V144.6h-2V141.6h-2V141.5h-2V143.2h-2V142.6h-2V139.7h-2V141.8h-2V140.3h-2V138.5h-2V137h-2V132.7h-2V133.7h-2V124.1h-2V128.1h-2V121.8h-2V117h-2V115h-2V109.7h-2V105.6h-2V103.8h-2V96.4h-2V97.5h-2V92.9h-2Z" stroke="none"/>
<path d="M745.8,349.3h2V353h2V362.8h2V363.9h2V367.8h2V369.9h2V376.8h2V377.6h2V383.7h2V383.2h2V388h2V390.4h2V390.8h2V400.9h2V401.9h2V398h2V405.9h2V405.9h2V411h2V408.3h2V410h2V409.8h2V410.5h2V410.4h2V410h2V407.4h2V408.4h2V410.5h2V406.6h2V407.9h2V403.4h2V405.6h2V408h2V406.4h2V401.5h2V406.7h2V398.4h2V403.1h2V399.2h2V399.6h2V400.6h2V396.9h2V399.8h2V398.8h2V394.1h2V399h2V397.9h2V391.3h2V394.3h2V391.5h2V392.7h2V391.3h2V395.1h2V385.2h2V391.5h2V393.8h2V398.2h2V399.2h2V397h2V404.5h2V405.1h2V404h2V402h2V411.8h2V412.9h2V414.5h2V416.3h2V417.2h2V422.3h2V419.8h2V430.7h2V435h2V431.2h2V438.1h2V437.7h2V441.8h2V445.2h2V447.2h2V448.9h2V453h2V454.2h2V456.4h2V456h2V459h2V459.9h2V462.4h2V464.7h2V467h2V465.2h2V467h2V469.6h2V468.9h2V473h2V471.6h2V470.7h2V472.5h2V473.6h2V472.7h2V471.3h2V475.5h2V475.1h2V473.8h2V476.8h2V476.5h2V477.2h2V477.5h2V478.3h2V476.2h2V478.7h2V479.1h2V479.6h2V479.9h2V477.6h2V479.6h2V481.4h2V479.7h2V479.2h2V482.4h2V480.4h2V481.3h2V483.1h2V484.8h2V484h2V483.1h2V480.7h2V482.8h2V483.4h2V483.3h2V484.4h2V482.7h2V482.8h2V484.7h2V485.3h2V483.4h2V484.3h2V486.7h2V482.7h2V484.3h2V487.5h2V483h2V488.4h2V488.1h2V488h2V489.2h2V490.5h2V489.6h2V491.1h2V492h2V493.5h2V490.9h2V493h2V493.7h2V492.8h2V495.1h2V495.8h2V495.7h2V496h2V496.2h2V495.2h2V493.8h2V497.1h2V498h2V495.4h2V495.6h2V497.7h2V498.1h2V495.9h2V498.3h2V497h2V498.4h2V497.8h2V499.8h2V499.7h2V497.9h2V500.5h2V500.9h2V499.3h2V500h2V501.9h2V500.9h2V501.8h2V500.4h2V501.2h2V500.6h2V501.7h2V500.4h2V500.8h2V502h2V502.3h2V500.7h2V501.5h2V503.8h2V502.4h2V502.4h2V503.3h2V504h2V502.4h2V504.7h2V504.1h2V504.1h2V504.3h2V504.1h2V503.1h2V505.5h2V504.9h2V505h2V504.2h2V503.6h2V504.8h2V503.5h2V503.5h2V505.2h2V506.8h2V504.7h2V507.1h2V506.4h2V505.8h2V505.1h2V506.8h2V506.3h2V505.9h2V506.3h2V507.4h2V504.4h2V507h2V506.5h2V507.2h2V509.1h2V506.4h2V507.3h2V508.5h2V508h2V506.9h2V508.4h2V509.7h2V508.1h2V508h2V507.3h2V505.6h2V508.1h2V509.1h2V507.4h2V508h2V508.2h2V507.3h2V506.8h2V509.6h2V508.5h2V508.8h2V508.3h2V506.8h2V509.7h2V506.7h2V509.7h2V509.9h2V507.7h2V509.3h2V508h2V509.5h2V510h2V509.5h2V506.6h2V508.6h2V508.8h2V508.6h2V507.7h2V508.6h2V509.4h2V510.1h2V509.6h2V511.3h2V510.1h2V509.9h2V510h2V508.7h2V510.5h2V509.5h2V510h2V510.9h2V508.1h2V508.6h2V507h2V511.1h2V510.5h2V510.1h2V509.9h2V509.2h2V509.8h2V510.4h2V510.4h2V510.6h2V510.6h2V510h2V510.6h2V510h2V511.8h2V510.6h2V511h2V512h2V509.2h2V512.3h2V511.4h2V511.3h2V509.3h2V512h2V511.6h2V511.1h2V510.8h2V510.8h2V511.1h2V509.6h2V510.5h2V511h2V510.6h2V518.1h-2V517.4h-2V518.3h-2V518.4h-2V517.9h-2V517.7h-2V518.4h-2V519.5h-2V517.7h-2V517h-2V519h-2V519.4h-2V516.8h-2V517.8h-2V517.8h-2V518.2h-2V517h-2V518.3h-2V517.4h-2V517.3h-2V519.2h-2V519.4h-2V518.1h-2V517.6h-2V517.3h-2V517.3h-2V516.9h-2V518.8h-2V518.8h-2V517.3h-2V517.5h-2V518.1h-2V519.4h-2V517.1h-2V518.8h-2V518h-2V517h-2V515.9h-2V517.2h-2V517.9h-2V519h-2V515.3h-2V515.7h-2V517.3h-2V515.5h-2V516.6h-2V515.9h-2V517.3h-2V517.4h-2V516.1h-2V516.8h-2V518.1h-2V517.4h-2V517.3h-2V518.1h-2V515.2h-2V520.6h-2V517.2h-2V515.7h-2V515.9h-2V517.2h-2V516.2h-2V516.4h-2V516.8h-2V515.4h-2V515.7h-2V515.9h-2V516.2h-2V515.4h-2V515.7h-2V515.1h-2V516.2h-2V515.6h-2V516.5h-2V515.3h-2V515.3h-2V515.9h-2V517.2h-2V515.2h-2V515.3h-2V513.6h-2V514.8h-2V513.2h-2V515.1h-2V516.3h-2V512.7h-2V514.6h-2V514.7h-2V515.3h-2V515.2h-2V515.3h-2V513h-2V514.1h-2V514.2h-2V513.1h-2V514.9h-2V512.8h-2V513.9h-2V514.9h-2V512.9h-2V512.3h-2V513.7h-2V510.9h-2V514.3h-2V514h-2V513h-2V512.5h-2V513.6h-2V512.9h-2V511.3h-2V513.3h-2V511.8h-2V511.9h-2V511.2h-2V511.9h-2V512.2h-2V510.8h-2V510.9h-2V511.7h-2V510.4h-2V510.5h-2V508.8h-2V509.7h-2V508.8h-2V510.9h-2V509.2h-2V508.6h-2V512.4h-2V509.3h-2V508.8h-2V509.3h-2V510.3h-2V507h-2V508.6h-2V507.5h-2V509h-2V507.8h-2V507.9h-2V507.4h-2V506.6h-2V506.1h-2V506.4h-2V507h-2V507.2h-2V506.5h-2V505.6h-2V505.7h-2V505.7h-2V504.3h-2V505.7h-2V505.6h-2V504.6h-2V505.6h-2V502.8h-2V503.3h-2V502.7h-2V503.3h-2V504.3h-2V504.1h-2V502.4h-2V501.6h-2V502.2h-2V502.3h-2V501.6h-2V502.8h-2V501.9h-2V498.7h-2V499h-2V502.1h-2V496.6h-2V495.5h-2V497.5h-2V495.8h-2V495.5h-2V497.1h-2V495.6h-2V492.9h-2V492.4h-2V494.3h-2V492.4h-2V492.3h-2V491.6h-2V494.5h-2V493.8h-2V491h-2V492.9h-2V493.6h-2V492.7h-2V490.8h-2V491.2h-2V490.7h-2V492.4h-2V492h-2V491.7h-2V491.5h-2V491.2h-2V489.5h-2V488.2h-2V489.9h-2V489.6h-2V487h-2V488.6h-2V488.8h-2V488.6h-2V487h-2V486.2h-2V486.4h-2V486.5h-2V485.4h-2V487.9h-2V486.5h-2V482.8h-2V485.3h-2V483h-2V483.1h-2V483.4h-2V480.5h-2V483.3h-2V480.9h-2V481.7h-2V480.4h-2V478.4h-2V477.4h-2V481.3h-2V481.4h-2V476.5h-2V475.4h-2V473.9h-2V471h-2V471.7h-2V471.9h-2V468h-2V468.8h-2V467h-2V461.9h-2V461.9h-2V458.2h-2V454.4h-2V452.9h-2V451.3h-2V447.3h-2V445.4h-2V446.8h-2V441.2h-2V437.9h-2V437.8h-2V431.6h-2V429.8h-2V423.3h-2V424.9h-2V424h-2V417.3h-2V417.1h-2V419.2h-2V415.2h-2V416h-2V417.1h-2V409.1h-2V409.1h-2V407h-2V407.8h-2V407.7h-2V407.6h-2V405.4h-2V408.7h-2V408h-2V407.1h-2V410.8h-2V406.7h-2V408.2h-2V410.2h-2V412.7h-2V413.8h-2V413.6h-2V418.2h-2V411.8h-2V417.2h-2V416.9h-2V421.4h-2V418.9h-2V417.4h-2V419.4h-2V419.7h-2V423.7h-2V423.3h-2V419.9h-2V420.8h-2V425.8h-2V423.3h-2V420.9h-2V422.9h-2V425.4h-2V421.5h-2V420.7h-2V420.4h-2V419.4h-2V421.2h-2V417.6h-2V416.1h-2V413.8h-2V412.6h-2V408.6h-2V403.1h-2V401.5h-2V397h-2V396h-2V389.6h-2V387.2h-2V383.3h-2V382.3h-2V380.6h-2V374h-2V370.5h-2V366.5h-2Z" stroke="none"/>
<path d="M745.7,583.9h2V597h2V607h2V616.5h2V622.2h2V622.9h2V632.9h2V640.4h2V647.1h2V650.6h2V650.4h2V654.4h2V657.4h2V655.3h2V661.5h2V665.7h2V669h2V668h2V665.1h2V675.1h2V671h2V670.4h2V670.2h2V671.5h2V676.9h2V677.1h2V674.3h2V673.5h2V674.2h2V676.2h2V671.8h2V672.5h2V677.5h2V678.1h2V678h2V677.5h2V674.3h2V673.7h2V672.7h2V675.3h2V675.1h2V673.5h2V674.7h2V670.5h2V667.6h2V667.4h2V663.2h2V668.9h2V671.4h2V670.7h2V669.6h2V671.8h2V672.5h2V677.3h2V677.2h2V675.9h2V677.9h2V677.6h2V680.3h2V682.3h2V681h2V684h2V685.5h2V687.3h2V686.9h2V690.3h2V691.7h2V694.2h2V696.8h2V698.5h2V703.6h2V704.1h2V707.2h2V712.7h2V711.4h2V716.5h2V715.8h2V717.2h2V722.4h2V725.2h2V723.4h2V727.8h2V728.5h2V731.2h2V731.7h2V732.7h2V732.6h2V736.3h2V736h2V736.8h2V739.9h2V738.6h2V740.8h2V739.5h2V740.5h2V741.4h2V743.3h2V745.4h2V744.3h2V746.4h2V747.3h2V748.9h2V749h2V750.4h2V749h2V749.5h2V751.5h2V751.5h2V750.8h2V751.1h2V750.3h2V752.1h2V753.1h2V754.2h2V754.4h2V753.4h2V756.1h2V755.5h2V754.9h2V755h2V755.4h2V753.4h2V753.3h2V752.9h2V753.3h2V755.3h2V756.6h2V755.1h2V754.2h2V753.8h2V754.3h2V755.9h2V756h2V754.6h2V755.6h2V755.7h2V757.9h2V758.2h2V759.6h2V759.5h2V762.6h2V761.1h2V761.6h2V764.9h2V763.8h2V765.8h2V765.6h2V764.9h2V768.5h2V768h2V768.8h2V769.2h2V771.2h2V770.3h2V770.7h2V773h2V772h2V773.1h2V770.6h2V773.6h2V771.4h2V772.6h2V774.4h2V773.9h2V771.5h2V774.6h2V773.6h2V774.7h2V775.2h2V775.2h2V774.5h2V775.2h2V775.1h2V774.2h2V774.9h2V774.2h2V775.5h2V774.8h2V774.7h2V775.6h2V775.9h2V776.3h2V776.2h2V775.2h2V773.9h2V776.8h2V776.5h2V777.5h2V777.4h2V775.7h2V774.3h2V776.7h2V776.8h2V775.5h2V775.8h2V777.2h2V775.7h2V776.2h2V776.1h2V778.4h2V777.8h2V779h2V777.2h2V779.7h2V779.2h2V778.4h2V779.2h2V778.5h2V779.7h2V778.3h2V778.1h2V778.5h2V778.8h2V779.4h2V779.2h2V780h2V778.2h2V778.8h2V778.4h2V780.3h2V780.9h2V780.5h2V781.1h2V779.9h2V778.4h2V781.2h2V780.6h2V781.1h2V780.6h2V780.8h2V782.2h2V782.2h2V781.6h2V781.1h2V781.2h2V782.5h2V782.1h2V781.9h2V781.7h2V782.4h2V782.8h2V783.2h2V782.7h2V782.9h2V783.5h2V782.6h2V783.1h2V781.6h2V782.8h2V781.7h2V782.9h2V784h2V784.2h2V781.8h2V783.1h2V785.1h2V784.3h2V784.3h2V783.5h2V784h2V783.3h2V784.1h2V783.5h2V783.3h2V784.1h2V783.5h2V783.4h2V784.3h2V784.2h2V785.8h2V782.8h2V784.8h2V783.9h2V782.7h2V784.5h2V784.1h2V784.2h2V784.8h2V785.4h2V785.1h2V785h2V785.1h2V785.6h2V784.4h2V784h2V785.3h2V784.8h2V785.3h2V782.6h2V783.7h2V785.9h2V784.2h2V785.4h2V785.6h2V785.6h2V785.4h2V785.2h2V784.7h2V785.5h2V785.4h2V785.3h2V786.3h2V785.7h2V786.3h2V784.9h2V784.4h2V786.3h2V787.1h2V785.2h2V786.9h2V785.5h2V786h2V784.6h2V785.8h2V793.6h-2V792.1h-2V792.6h-2V791.6h-2V792.1h-2V791.6h-2V791.7h-2V791.9h-2V791.5h-2V792h-2V791.8h-2V792.3h-2V790.8h-2V790.6h-2V791.4h-2V791.9h-2V790.5h-2V792.1h-2V791.4h-2V790.8h-2V791.9h-2V791.2h-2V790.6h-2V791.1h-2V792.4h-2V790.1h-2V791.8h-2V791.1h-2V791.7h-2V792.2h-2V791.3h-2V790.6h-2V790.5h-2V790.4h-2V791.4h-2V790h-2V790.4h-2V791.5h-2V790.7h-2V790.6h-2V790.3h-2V790.1h-2V791.4h-2V790h-2V791h-2V789.1h-2V790.2h-2V790.4h-2V790h-2V789.3h-2V790.4h-2V788.6h-2V789.9h-2V788.6h-2V789.2h-2V788.7h-2V789h-2V790.3h-2V790.4h-2V789.5h-2V788.8h-2V789.7h-2V789.2h-2V788.4h-2V788.5h-2V787.8h-2V788.1h-2V789.8h-2V787.6h-2V789.5h-2V788.4h-2V788.2h-2V788.3h-2V788.9h-2V788.3h-2V786.7h-2V788.5h-2V789.5h-2V787.6h-2V787.5h-2V788h-2V787h-2V787.1h-2V786.7h-2V786.1h-2V786.4h-2V788.2h-2V787.7h-2V787.2h-2V788.5h-2V785.9h-2V786.6h-2V787.5h-2V785.9h-2V785.8h-2V786.4h-2V786h-2V785.9h-2V787.1h-2V785.9h-2V785.8h-2V785h-2V785.3h-2V784.6h-2V785.4h-2V784.6h-2V785.2h-2V785.2h-2V784.2h-2V785.1h-2V784.8h-2V784h-2V784.1h-2V784.7h-2V785.8h-2V784.8h-2V784.2h-2V783.2h-2V782.2h-2V783.2h-2V782.2h-2V784.1h-2V783.3h-2V782h-2V783.5h-2V782.6h-2V783.3h-2V782.9h-2V782.5h-2V782.1h-2V782.7h-2V782.5h-2V782.9h-2V782.1h-2V781.6h-2V781.1h-2V781.7h-2V782.1h-2V782.1h-2V781h-2V782.1h-2V781.7h-2V782.1h-2V780.8h-2V782.2h-2V780.4h-2V780.7h-2V780.1h-2V779.3h-2V778.8h-2V780.5h-2V780.5h-2V779.5h-2V779.4h-2V780h-2V781h-2V779.1h-2V779.1h-2V778.3h-2V777.4h-2V776.9h-2V776.7h-2V776.6h-2V775.7h-2V775.8h-2V774.1h-2V772.8h-2V773.6h-2V771.9h-2V772.6h-2V772.4h-2V769.6h-2V769.4h-2V768.9h-2V769.1h-2V767.8h-2V766.5h-2V763.5h-2V765h-2V764.6h-2V763.2h-2V762.4h-2V763.3h-2V760.6h-2V761.1h-2V761.3h-2V761.7h-2V761.7h-2V760.8h-2V760.9h-2V762.3h-2V761.8h-2V761.8h-2V760.6h-2V761.6h-2V766.8h-2V762.1h-2V761.2h-2V760.1h-2V759.8h-2V760.8h-2V760.5h-2V760.2h-2V759.3h-2V758.6h-2V759.3h-2V758h-2V757.1h-2V757.8h-2V756.5h-2V756h-2V755.3h-2V757.5h-2V757.7h-2V753.3h-2V753.4h-2V752.1h-2V751.4h-2V752.6h-2V749.3h-2V748.5h-2V748.5h-2V747.1h-2V747.6h-2V745.4h-2V744.7h-2V743.9h-2V743.2h-2V742.2h-2V739.3h-2V737.3h-2V737.1h-2V736.6h-2V731.3h-2V730.3h-2V735.1h-2V730.1h-2V729.5h-2V724.6h-2V725.8h-2V722.7h-2V714.5h-2V718.5h-2V712.7h-2V709.9h-2V707h-2V705.6h-2V703.2h-2V700.8h-2V700.6h-2V696.9h-2V698.1h-2V692.7h-2V693h-2V690.9h-2V694.5h-2V692.4h-2V690.4h-2V690h-2V686.8h-2V686.5h-2V685.3h-2V678.8h-2V686.3h-2V678.2h-2V680.2h-2V677.8h-2V679.1h-2V679.7h-2V681.1h-2V681h-2V687.1h-2V685.3h-2V686.1h-2V687.2h-2V685.5h-2V688h-2V688.3h-2V687.8h-2V685.1h-2V686.5h-2V689.8h-2V686.2h-2V687.7h-2V686.1h-2V685.3h-2V685h-2V684.3h-2V685.7h-2V686.6h-2V684.9h-2V684h-2V684.7h-2V682.4h-2V683.9h-2V682.3h-2V679.2h-2V681.4h-2V680h-2V673.3h-2V673.4h-2V670.7h-2V669.4h-2V667h-2V660.7h-2V656.8h-2V656.8h-2V648h-2V644h-2V633.6h-2V630.5h-2V621.3h-2V613.9h-2V606.5h-2Z" stroke="none"/>
<path d="M49.5,980.4h2V986.3h2V987.3h2V989.2h2V989.5h2V992.9h2V992.9h2V993.7h2V993.3h2V994.2h2V995.6h2V1003.5h2V1004.4h2V1000.5h2V1006.3h2V997.4h2V1002.9h2V1002.9h2V1004.5h2V1003.6h2V1001.7h2V1006.2h2V1004.5h2V1004.4h2V1005.2h2V1003h2V998h2V1003.6h2V999.2h2V996.4h2V999.2h2V997.9h2V995h2V994.5h2V988.3h2V991h2V986.5h2V984.7h2V982.6h2V979.8h2V977.1h2V975.3h2V974.5h2V975.7h2V967.5h2V968.5h2V971.3h2V963.6h2V963.8h2V964.6h2V962.2h2V962.4h2V960.1h2V964.3h2V963.1h2V958.6h2V958.1h2V962.2h2V965.7h2V963.4h2V966.4h2V972.4h2V977.4h2V971.9h2V978.4h2V980h2V980.1h2V984.5h2V990.7h2V987.5h2V993.2h2V999h2V1002.8h2V1004.6h2V1011.9h2V1011.7h2V1013.5h2V1014.7h2V1017.1h2V1019.5h2V1019.6h2V1023.5h2V1023.6h2V1027.4h2V1032.3h2V1029.8h2V1032.5h2V1037.7h2V1034h2V1037.5h2V1039.7h2V1042.6h2V1042.9h2V1041.9h2V1042.6h2V1044.3h2V1045.3h2V1045.9h2V1048.9h2V1046.3h2V1049.8h2V1048.3h2V1047.9h2V1049.6h2V1050.2h2V1053.7h2V1052.3h2V1053h2V1049.9h2V1052.9h2V1052.9h2V1053.2h2V1051.8h2V1053.1h2V1054.3h2V1054.4h2V1055.2h2V1052.9h2V1054.8h2V1056.7h2V1054.9h2V1055.6h2V1056.2h2V1057h2V1055.1h2V1054.7h2V1056.9h2V1055.2h2V1056.9h2V1056.7h2V1058.7h2V1056.3h2V1057h2V1053.8h2V1056.7h2V1056.1h2V1058.5h2V1059.3h2V1061.3h2V1060.6h2V1063.4h2V1063.7h2V1064.7h2V1064h2V1063.3h2V1065.3h2V1064.9h2V1066.1h2V1066.9h2V1068.6h2V1068.9h2V1069.1h2V1069h2V1071.8h2V1072h2V1073.6h2V1075.3h2V1075h2V1075.6h2V1076h2V1074.1h2V1074.2h2V1075.5h2V1076.6h2V1075.7h2V1076.3h2V1079.7h2V1077.7h2V1079.3h2V1078.8h2V1079.5h2V1079.7h2V1080.4h2V1079.9h2V1081.4h2V1080.1h2V1081h2V1079.8h2V1079.8h2V1081.9h2V1080.2h2V1079.9h2V1080.7h2V1081.2h2V1082.3h2V1083.1h2V1083.3h2V1084.2h2V1082.2h2V1082.9h2V1084.7h2V1082.2h2V1083.5h2V1081.9h2V1084.3h2V1084.2h2V1084.7h2V1085.7h2V1085h2V1084.5h2V1086.2h2V1085.4h2V1084.7h2V1085.5h2V1085.7h2V1085.2h2V1084.8h2V1085.3h2V1087h2V1086.9h2V1086.5h2V1085.5h2V1085.8h2V1084.9h2V1087h2V1086.6h2V1086.3h2V1085.7h2V1086.4h2V1087.4h2V1087.8h2V1087.8h2V1088h2V1087.6h2V1088.2h2V1087.1h2V1087.2h2V1087.2h2V1088.3h2V1088.4h2V1088.4h2V1088.7h2V1087.6h2V1088.5h2V1087.3h2V1089.5h2V1089.5h2V1089h2V1089.3h2V1089.8h2V1088h2V1088.9h2V1088.8h2V1088.5h2V1089.3h2V1088h2V1088.9h2V1088.8h2V1089.4h2V1089.2h2V1089.6h2V1090.1h2V1089.1h2V1090.4h2V1089.8h2V1089.7h2V1091.4h2V1091.4h2V1091.3h2V1091.3h2V1090.3h2V1089.8h2V1090h2V1090h2V1091h2V1090.4h2V1091.3h2V1090.5h2V1091.9h2V1090.2h2V1090.9h2V1088.6h2V1091.5h2V1091.9h2V1091.2h2V1092.7h2V1090.9h2V1092.4h2V1092.6h2V1091.1h2V1092.1h2V1090.4h2V1091h2V1092.2h2V1092h2V1091.5h2V1091.3h2V1092.4h2V1091.8h2V1093.2h2V1091.9h2V1092.6h2V1092.3h2V1093.4h2V1091.8h2V1092.4h2V1092.1h2V1091.4h2V1091.8h2V1091.5h2V1092.2h2V1092.1h2V1093.2h2V1091.5h2V1092.2h2V1092.5h2V1092.8h2V1093.1h2V1092.9h2V1094.4h2V1092.8h2V1093.4h2V1092.5h2V1092.6h2V1092.7h2V1091.7h2V1092.3h2V1092.5h2V1092.4h2V1097.5h-2V1098.7h-2V1097.6h-2V1098.8h-2V1099h-2V1098.5h-2V1098.2h-2V1097.6h-2V1098h-2V1098h-2V1099.2h-2V1098.5h-2V1098.4h-2V1097.8h-2V1098.4h-2V1098.9h-2V1098.1h-2V1099.3h-2V1098.3h-2V1098.8h-2V1098.7h-2V1099.6h-2V1097.4h-2V1098.7h-2V1098.5h-2V1098.3h-2V1097h-2V1097.6h-2V1097.1h-2V1097.8h-2V1098.7h-2V1098.7h-2V1097.2h-2V1096.7h-2V1096.5h-2V1097.4h-2V1097.8h-2V1098.1h-2V1098.3h-2V1096.7h-2V1097.3h-2V1098.5h-2V1097.5h-2V1097.6h-2V1097h-2V1097.9h-2V1097.1h-2V1097.2h-2V1097.5h-2V1096.3h-2V1097h-2V1096.6h-2V1096h-2V1096.9h-2V1095.7h-2V1097.1h-2V1097.6h-2V1095.5h-2V1099.1h-2V1096.1h-2V1096.3h-2V1096.1h-2V1096.3h-2V1096.2h-2V1097.2h-2V1095.2h-2V1094.6h-2V1096.3h-2V1096.7h-2V1095.8h-2V1095.4h-2V1094.9h-2V1096h-2V1094.3h-2V1095.7h-2V1094.6h-2V1095h-2V1095.4h-2V1095.9h-2V1096h-2V1094.8h-2V1095.2h-2V1096.5h-2V1094.6h-2V1094.7h-2V1098h-2V1093.5h-2V1095.1h-2V1095.2h-2V1094.2h-2V1093.3h-2V1094.6h-2V1093.4h-2V1093.5h-2V1094h-2V1094h-2V1093.8h-2V1093.7h-2V1093.9h-2V1093.2h-2V1094.1h-2V1094h-2V1094.5h-2V1093.6h-2V1094.1h-2V1093.4h-2V1094.3h-2V1092.9h-2V1093h-2V1093h-2V1093.9h-2V1093h-2V1092.2h-2V1091.8h-2V1090.7h-2V1091.1h-2V1091.1h-2V1092.1h-2V1092.3h-2V1092.5h-2V1092.5h-2V1092.4h-2V1090.6h-2V1089.5h-2V1090.4h-2V1091.8h-2V1089.7h-2V1090.7h-2V1090h-2V1089.4h-2V1090.4h-2V1089.6h-2V1090.8h-2V1089.1h-2V1089.1h-2V1088h-2V1088.3h-2V1089.8h-2V1086.9h-2V1088.2h-2V1088.7h-2V1085.8h-2V1089.4h-2V1084.2h-2V1090h-2V1088.1h-2V1089.3h-2V1086.3h-2V1086.3h-2V1085.7h-2V1086.5h-2V1085h-2V1085.5h-2V1084.5h-2V1084.8h-2V1084.6h-2V1083.2h-2V1083.3h-2V1083.1h-2V1083.2h-2V1082.2h-2V1081.6h-2V1079.4h-2V1078.7h-2V1080h-2V1079.8h-2V1078h-2V1077.7h-2V1077.3h-2V1078h-2V1074.4h-2V1077h-2V1074h-2V1075h-2V1074.5h-2V1072.1h-2V1072.2h-2V1072.7h-2V1072.2h-2V1071.8h-2V1068.7h-2V1067.8h-2V1065.3h-2V1067.5h-2V1065.7h-2V1065.8h-2V1064.6h-2V1065.9h-2V1066.9h-2V1067.7h-2V1066.6h-2V1064.7h-2V1065.6h-2V1064.8h-2V1064.5h-2V1067h-2V1067.8h-2V1063.5h-2V1065.4h-2V1063.1h-2V1064h-2V1063.4h-2V1064.2h-2V1064h-2V1063.4h-2V1064.2h-2V1061.9h-2V1059.7h-2V1061.8h-2V1064h-2V1064.3h-2V1060.6h-2V1061.9h-2V1061.1h-2V1059.1h-2V1058.7h-2V1059.3h-2V1059.7h-2V1060.5h-2V1057.9h-2V1055.7h-2V1057.8h-2V1054.3h-2V1053h-2V1051.7h-2V1054.7h-2V1052.5h-2V1051h-2V1051h-2V1046.7h-2V1046h-2V1045.9h-2V1045.4h-2V1045.5h-2V1043.4h-2V1040.6h-2V1036.3h-2V1035.4h-2V1031.8h-2V1032h-2V1029.5h-2V1026h-2V1025.3h-2V1022.5h-2V1021.9h-2V1017.4h-2V1013.1h-2V1013.4h-2V1007.5h-2V1001.8h-2V999.6h-2V998.8h-2V996.7h-2V991.1h-2V996.3h-2V991.9h-2V988.5h-2V990.3h-2V985.6h-2V978.4h-2V980h-2V979.2h-2V976.3h-2V980.8h-2V979.3h-2V975.9h-2V973.7h-2V977.2h-2V981.2h-2V984.9h-2V979.6h-2V983.3h-2V982.5h-2V983.2h-2V982.9h-2V988.2h-2V986.2h-2V989.7h-2V986.2h-2V999.4h-2V999.6h-2V998.7h-2V999.8h-2V1003.1h-2V1005.3h-2V1005.4h-2V1006.8h-2V1011.1h-2V1012.3h-2V1012.8h-2V1013h-2V1012.5h-2V1011.7h-2V1015.5h-2V1016.1h-2V1016.3h-2V1016.1h-2V1018h-2V1017.5h-2V1018.4h-2V1016.9h-2V1017.4h-2V1013.8h-2V1014.4h-2V1015.5h-2V1013.2h-2V1015.3h-2V1012.2h-2V1009.5h-2V1010.3h-2V1010.8h-2V1005.3h-2V1006.8h-2V1003.3h-2V1007.4h-2V1002.8h-2V1000.2h-2V998.2h-2V999.2h-2Z" stroke="none"/>
<path d="M95.3,1221.8 L95.9,1173.7 L98.9,1173.7 L99.5,1221.8 Z" stroke="none"/>
<path d="M140.3,1194.9 L140.9,1177.3 L142.9,1177.3 L143.5,1194.9 Z" stroke="none"/>
<path d="M235.2,1264 L235.8,1240.1 L239,1240.1 L239.6,1264 Z" stroke="none"/>
<path d="M49.5,1186h2V1183.3h2V1188.2h2V1193h2V1199.3h2V1198.2h2V1200.9h2V1205.4h2V1204.4h2V1210h2V1210.4h2V1207.9h2V1214.8h2V1214.3h2V1217.1h2V1216.1h2V1214.9h2V1216h2V1214.2h2V1218.7h2V1214.2h2V1217.4h2V1215.5h2V1215h2V1212.7h2V1214.3h2V1213.3h2V1214.6h2V1211.8h2V1211.4h2V1207.9h2V1206.2h2V1208.8h2V1210h2V1206h2V1204.7h2V1205.8h2V1203.7h2V1200.6h2V1196.6h2V1195h2V1196h2V1194.2h2V1192.6h2V1187.8h2V1188.9h2V1188.1h2V1186.1h2V1184.4h2V1181.5h2V1184.7h2V1184.9h2V1182.1h2V1179.7h2V1180.1h2V1178.7h2V1183.9h2V1187.4h2V1185.8h2V1183.5h2V1184.6h2V1192h2V1193.5h2V1197.4h2V1195.2h2V1196.2h2V1206.1h2V1206.6h2V1214.2h2V1214.6h2V1220.5h2V1219.6h2V1223.6h2V1230.1h2V1230.7h2V1233.1h2V1231.1h2V1234.4h2V1233.4h2V1239.2h2V1240.6h2V1239.8h2V1244.2h2V1249.2h2V1251.5h2V1251.5h2V1255.3h2V1254.6h2V1260.7h2V1260.7h2V1258.3h2V1260.1h2V1260.8h2V1259h2V1258.6h2V1258.9h2V1264.5h2V1265.7h2V1268.1h2V1268.2h2V1270.8h2V1269.1h2V1269.5h2V1268.6h2V1268.5h2V1269.9h2V1270.9h2V1271.6h2V1275h2V1274.7h2V1273h2V1272.9h2V1272.3h2V1274.1h2V1273.9h2V1273.8h2V1274.2h2V1274.5h2V1274.1h2V1273.1h2V1274.2h2V1274.1h2V1276.8h2V1276.3h2V1276.1h2V1276.7h2V1277.6h2V1277.3h2V1278.9h2V1277.2h2V1277.1h2V1278.6h2V1276.6h2V1277.8h2V1277.1h2V1279.4h2V1279.5h2V1279.3h2V1279.8h2V1279.1h2V1278.9h2V1280.2h2V1279.9h2V1282.8h2V1282.3h2V1282.5h2V1284.9h2V1284.6h2V1285.1h2V1284.8h2V1285.1h2V1287h2V1287.8h2V1286.6h2V1288.5h2V1288.3h2V1287.4h2V1287.6h2V1287.8h2V1289.1h2V1290.3h2V1290h2V1290.1h2V1290.9h2V1290.8h2V1289h2V1291.1h2V1289.6h2V1292.7h2V1291.6h2V1292.4h2V1290.2h2V1291.8h2V1292.7h2V1293.3h2V1291.7h2V1292.6h2V1294.6h2V1294.2h2V1294.1h2V1295.1h2V1296.1h2V1293.4h2V1294.4h2V1296.6h2V1295.2h2V1296.4h2V1294.8h2V1296.5h2V1297.1h2V1296.3h2V1296h2V1296h2V1296.8h2V1296.3h2V1296.5h2V1297.1h2V1296.9h2V1297.7h2V1298h2V1298.8h2V1297.2h2V1299.7h2V1297.2h2V1298.5h2V1298.4h2V1299.6h2V1297.7h2V1299.2h2V1299.3h2V1298.2h2V1299.7h2V1298.3h2V1299.5h2V1299.3h2V1298.7h2V1299.1h2V1297.6h2V1299.7h2V1300.5h2V1300.6h2V1300.5h2V1299.9h2V1300h2V1300.9h2V1300.3h2V1300.6h2V1300.8h2V1301h2V1300.8h2V1301.4h2V1300.7h2V1302.4h2V1301.5h2V1301.5h2V1301h2V1302h2V1299.8h2V1301.5h2V1300.6h2V1300.7h2V1300.5h2V1301.1h2V1302.4h2V1301.2h2V1303.2h2V1302.6h2V1302h2V1303.5h2V1301.8h2V1302.3h2V1303.4h2V1302.4h2V1302.2h2V1302.8h2V1302.2h2V1302.8h2V1303.4h2V1302.2h2V1302.1h2V1303.2h2V1303h2V1301.4h2V1303.9h2V1302.9h2V1303.1h2V1303.2h2V1302.7h2V1302.1h2V1302.1h2V1303.7h2V1303h2V1304.4h2V1302.7h2V1304.1h2V1303.5h2V1303.2h2V1303.8h2V1303.9h2V1303.6h2V1304.2h2V1303.8h2V1303.6h2V1303.6h2V1303.9h2V1303.9h2V1302.9h2V1303.5h2V1303h2V1304.4h2V1303.2h2V1304h2V1304.6h2V1302.9h2V1304.8h2V1303.7h2V1302.3h2V1304.2h2V1304.2h2V1304.7h2V1304.2h2V1304.5h2V1302.1h2V1304.9h2V1304.3h2V1305h2V1303.1h2V1304.7h2V1303.3h2V1304.3h2V1305.5h2V1305.5h2V1303.8h2V1304.1h2V1304.6h2V1304.8h2V1305.1h2V1305h2V1304.9h2V1311.5h-2V1310.6h-2V1309.9h-2V1310.8h-2V1310.6h-2V1309.6h-2V1310.7h-2V1309.5h-2V1311.4h-2V1311.2h-2V1310.6h-2V1311.2h-2V1310.5h-2V1310.8h-2V1311.2h-2V1310.6h-2V1309.7h-2V1309.3h-2V1310.3h-2V1310h-2V1310.2h-2V1309.9h-2V1311.3h-2V1311h-2V1309.6h-2V1309.6h-2V1311.3h-2V1310.1h-2V1309.8h-2V1309.3h-2V1309.3h-2V1310.1h-2V1310.2h-2V1309.9h-2V1308.2h-2V1309.9h-2V1310.4h-2V1308.2h-2V1310.5h-2V1309.2h-2V1309.3h-2V1308.7h-2V1309.2h-2V1309.3h-2V1309h-2V1308.9h-2V1310.3h-2V1308.7h-2V1309.8h-2V1309h-2V1308.9h-2V1310.9h-2V1309h-2V1310.3h-2V1308.9h-2V1308.7h-2V1309.1h-2V1308.9h-2V1309.7h-2V1308.7h-2V1309.3h-2V1309.8h-2V1308.7h-2V1309h-2V1309.4h-2V1309.5h-2V1308.1h-2V1309.8h-2V1308.1h-2V1308.6h-2V1308.9h-2V1309h-2V1308h-2V1308.5h-2V1309.9h-2V1308.5h-2V1307.1h-2V1309.5h-2V1307.9h-2V1308.1h-2V1307.2h-2V1308.9h-2V1308.6h-2V1306.1h-2V1307.5h-2V1307.3h-2V1306.9h-2V1307.3h-2V1308h-2V1307.9h-2V1306.6h-2V1306.2h-2V1307.7h-2V1308.1h-2V1308.6h-2V1306.1h-2V1306.6h-2V1307.9h-2V1306.9h-2V1306.8h-2V1306.9h-2V1306.6h-2V1305.8h-2V1306.3h-2V1305.6h-2V1306.2h-2V1308.2h-2V1305.7h-2V1305h-2V1306.9h-2V1305.7h-2V1304.8h-2V1305.9h-2V1305.7h-2V1304.1h-2V1304.1h-2V1305.5h-2V1304.1h-2V1303.3h-2V1305.1h-2V1304.1h-2V1304.5h-2V1303.5h-2V1304.3h-2V1301.5h-2V1302.5h-2V1303.9h-2V1302.6h-2V1303.7h-2V1303.2h-2V1302.8h-2V1303h-2V1303.1h-2V1302h-2V1303.4h-2V1300.7h-2V1301.2h-2V1302.2h-2V1300.2h-2V1301.9h-2V1300.8h-2V1299.7h-2V1302h-2V1300.2h-2V1301.7h-2V1300.3h-2V1300.5h-2V1301h-2V1300.1h-2V1298.7h-2V1298.6h-2V1298.4h-2V1299.4h-2V1297.9h-2V1298h-2V1296.8h-2V1296.9h-2V1298.1h-2V1297.3h-2V1298.2h-2V1295h-2V1295.6h-2V1295.4h-2V1297h-2V1295h-2V1294h-2V1294.6h-2V1293.7h-2V1295.1h-2V1291.9h-2V1293h-2V1292h-2V1292.9h-2V1289.9h-2V1291h-2V1290.3h-2V1289.1h-2V1288.9h-2V1287.1h-2V1285.6h-2V1287.5h-2V1288.4h-2V1288.1h-2V1287.5h-2V1288.1h-2V1287.8h-2V1286.4h-2V1285.5h-2V1285.3h-2V1286.5h-2V1284.3h-2V1283.9h-2V1284.6h-2V1283.5h-2V1285.9h-2V1284.2h-2V1284.9h-2V1281.8h-2V1285h-2V1283.8h-2V1280.9h-2V1281.6h-2V1283.3h-2V1281.7h-2V1280.7h-2V1282.6h-2V1282.3h-2V1281.1h-2V1281.1h-2V1282.3h-2V1281.4h-2V1280.7h-2V1280h-2V1280.6h-2V1278.5h-2V1278.6h-2V1279.5h-2V1276.3h-2V1276.8h-2V1276.1h-2V1276.1h-2V1278h-2V1272.6h-2V1273.6h-2V1271.7h-2V1268.5h-2V1269h-2V1269.2h-2V1269.7h-2V1269.9h-2V1271.2h-2V1268.2h-2V1267h-2V1262.3h-2V1261.2h-2V1261.1h-2V1256.2h-2V1255.5h-2V1252.7h-2V1249.4h-2V1244.7h-2V1246.1h-2V1244h-2V1243.4h-2V1239.6h-2V1241h-2V1235.3h-2V1234.9h-2V1231.8h-2V1230.7h-2V1226h-2V1225.1h-2V1224.4h-2V1213.2h-2V1209h-2V1211.7h-2V1210.3h-2V1207.7h-2V1204.1h-2V1200.7h-2V1204.6h-2V1200.8h-2V1197.8h-2V1195.7h-2V1195.8h-2V1197.3h-2V1195.8h-2V1198.6h-2V1195.3h-2V1199.1h-2V1202.4h-2V1201.7h-2V1204.8h-2V1202.7h-2V1204.5h-2V1203.6h-2V1211.3h-2V1206.7h-2V1208.1h-2V1212h-2V1214.7h-2V1215.2h-2V1217h-2V1219.5h-2V1217.7h-2V1220.3h-2V1223.7h-2V1221.7h-2V1224.7h-2V1227.2h-2V1223.9h-2V1223.7h-2V1223.9h-2V1229.2h-2V1228.8h-2V1232.1h-2V1226.6h-2V1230.7h-2V1229.5h-2V1229.9h-2V1231.3h-2V1227.1h-2V1229.8h-2V1230.3h-2V1227.4h-2V1226.2h-2V1228.3h-2V1226.9h-2V1222.5h-2V1218.9h-2V1224.2h-2V1219.4h-2V1211.2h-2V1209.2h-2V1209.6h-2V1207.3h-2V1201.7h-2V1202.8h-2V1204.4h-2Z" stroke="none"/>
<path d="M49.5,1373.1h2V1378.3h2V1377h2V1386h2V1389.9h2V1391.1h2V1398.9h2V1403.2h2V1409.5h2V1408.5h2V1410.9h2V1411.7h2V1416.2h2V1416.6h2V1417h2V1421.1h2V1424.2h2V1425h2V1427.8h2V1430.7h2V1433.1h2V1433.3h2V1430.6h2V1429.7h2V1433.6h2V1433.7h2V1433.1h2V1431.2h2V1432.7h2V1433.5h2V1436.6h2V1434.4h2V1432.8h2V1435.7h2V1430.9h2V1433.9h2V1430h2V1430.9h2V1432.2h2V1429.2h2V1428.1h2V1427.3h2V1428.8h2V1426.3h2V1428.4h2V1427.4h2V1428.1h2V1429.3h2V1424.8h2V1425.5h2V1426.2h2V1431.3h2V1431.5h2V1428.2h2V1431.6h2V1431.5h2V1430.2h2V1435.4h2V1433.2h2V1437.9h2V1436.4h2V1438.9h2V1441.7h2V1445.9h2V1446.1h2V1447.4h2V1449.5h2V1448.1h2V1453.4h2V1453.1h2V1455.5h2V1457.6h2V1458.7h2V1459.9h2V1459.6h2V1464h2V1466.3h2V1470.4h2V1472.2h2V1472.7h2V1475.9h2V1474.5h2V1475.6h2V1478.4h2V1478.5h2V1477.6h2V1479.2h2V1481h2V1481h2V1482.6h2V1483.2h2V1485.8h2V1485.3h2V1481.6h2V1486h2V1487.4h2V1487h2V1488.2h2V1485.9h2V1486.3h2V1487h2V1487.8h2V1488.5h2V1489.3h2V1487.9h2V1489h2V1488.9h2V1488h2V1489.4h2V1489h2V1490.8h2V1490.6h2V1492.1h2V1491.2h2V1490.4h2V1494.2h2V1492.8h2V1492.5h2V1492.9h2V1492.5h2V1491.7h2V1494.4h2V1493.6h2V1494h2V1492.9h2V1494.2h2V1494.5h2V1494h2V1494.7h2V1494.2h2V1493.3h2V1493h2V1492.2h2V1494.8h2V1493.5h2V1496.3h2V1495.6h2V1495.7h2V1495.7h2V1496.3h2V1495.3h2V1497.4h2V1498.8h2V1499.5h2V1497.6h2V1498.9h2V1499.5h2V1499.5h2V1499.8h2V1500.1h2V1500h2V1500.7h2V1500.1h2V1502.1h2V1502.5h2V1502.1h2V1501.8h2V1501.3h2V1501.2h2V1503.7h2V1501.7h2V1503h2V1501.5h2V1501.8h2V1503.3h2V1502.1h2V1502.2h2V1502.9h2V1504.1h2V1503h2V1502.6h2V1504.2h2V1503.5h2V1503.4h2V1502.9h2V1504.2h2V1502.4h2V1503.2h2V1503.9h2V1503.2h2V1504.7h2V1502.6h2V1503.2h2V1505h2V1503.8h2V1504h2V1504.3h2V1504.4h2V1504h2V1504.2h2V1505.1h2V1504.2h2V1504.3h2V1503.9h2V1505h2V1504.7h2V1504.8h2V1505.5h2V1505.7h2V1507.4h2V1504.2h2V1505.8h2V1505.1h2V1504.8h2V1506.1h2V1504.6h2V1505.9h2V1505.9h2V1505.9h2V1506.2h2V1508.2h2V1507.2h2V1505.6h2V1505.6h2V1506.4h2V1506.7h2V1506.3h2V1507.1h2V1506.5h2V1507.4h2V1507.9h2V1507.3h2V1508.4h2V1508h2V1508.4h2V1507.9h2V1508.5h2V1508.3h2V1508.1h2V1507.1h2V1508.3h2V1508.9h2V1508.3h2V1509.2h2V1508.6h2V1508.7h2V1507.9h2V1508.5h2V1508.6h2V1509.6h2V1508.5h2V1508.8h2V1508.7h2V1509.5h2V1510h2V1509.3h2V1509.1h2V1510.1h2V1509h2V1510.2h2V1509.6h2V1511.1h2V1509.5h2V1509.7h2V1509.9h2V1509.4h2V1509.9h2V1511h2V1510.2h2V1511h2V1510.4h2V1508.9h2V1508.3h2V1511.2h2V1510.4h2V1509.5h2V1510.3h2V1509.3h2V1510.6h2V1510.2h2V1510.8h2V1512.1h2V1510.1h2V1511.2h2V1511.6h2V1510.7h2V1511.1h2V1510.1h2V1510.8h2V1510.3h2V1512.1h2V1511.1h2V1510.6h2V1511.4h2V1512.7h2V1511.1h2V1511.9h2V1512.1h2V1512.2h2V1511.7h2V1510.5h2V1512.7h2V1510.5h2V1511.8h2V1512.2h2V1512.3h2V1512.2h2V1512.2h2V1512.1h2V1511.3h2V1512.2h2V1512.1h2V1510.8h2V1511.9h2V1511.9h2V1512h2V1512.5h2V1512.6h2V1510.9h2V1511.3h2V1511.1h2V1511.6h2V1511.4h2V1512.3h2V1512.8h2V1512.2h2V1512.6h2V1511.9h2V1513.1h2V1518.3h-2V1517.6h-2V1518.2h-2V1517.5h-2V1519h-2V1517.8h-2V1518.5h-2V1518.9h-2V1518.1h-2V1517.1h-2V1518.1h-2V1517.6h-2V1517h-2V1517.4h-2V1518.2h-2V1517.6h-2V1517.2h-2V1518.7h-2V1520.2h-2V1517.4h-2V1516.8h-2V1517.5h-2V1518.2h-2V1520.1h-2V1517.9h-2V1518.5h-2V1516.9h-2V1517.7h-2V1517.2h-2V1517.3h-2V1518h-2V1517.7h-2V1517.5h-2V1517.4h-2V1517.2h-2V1516.7h-2V1518h-2V1517.8h-2V1517.9h-2V1517.4h-2V1516.3h-2V1517.8h-2V1516.2h-2V1516.8h-2V1517h-2V1516.5h-2V1516.2h-2V1516.2h-2V1517.2h-2V1515.7h-2V1516.7h-2V1518.2h-2V1516.6h-2V1516.3h-2V1517.1h-2V1516.5h-2V1516.2h-2V1516.3h-2V1518h-2V1517.9h-2V1517.1h-2V1516.5h-2V1515.8h-2V1516.2h-2V1517.3h-2V1515.7h-2V1515.5h-2V1516.3h-2V1517h-2V1516.7h-2V1514.9h-2V1515.1h-2V1515.7h-2V1514.9h-2V1516.1h-2V1514.7h-2V1516.5h-2V1514.3h-2V1514.4h-2V1515.5h-2V1514.5h-2V1514.6h-2V1514.3h-2V1514.5h-2V1516.2h-2V1515.4h-2V1514h-2V1514.1h-2V1515.4h-2V1515.6h-2V1515.1h-2V1515.6h-2V1513.8h-2V1514.4h-2V1513.9h-2V1514.4h-2V1514.1h-2V1513.6h-2V1513.7h-2V1513.2h-2V1512.4h-2V1513.4h-2V1515h-2V1513.2h-2V1513.8h-2V1512.6h-2V1514.2h-2V1512.9h-2V1513.3h-2V1512.6h-2V1512.9h-2V1511.1h-2V1512h-2V1514.1h-2V1513.3h-2V1511.5h-2V1511.8h-2V1511.5h-2V1511.4h-2V1511.8h-2V1512h-2V1512.9h-2V1513h-2V1511.4h-2V1509.4h-2V1510.7h-2V1510.6h-2V1512.3h-2V1511.1h-2V1509.6h-2V1510.7h-2V1509.8h-2V1510.6h-2V1512h-2V1510.5h-2V1510.4h-2V1509.6h-2V1510.3h-2V1509h-2V1509.6h-2V1510h-2V1509.5h-2V1510.5h-2V1510.5h-2V1509.3h-2V1511.4h-2V1508.9h-2V1509.3h-2V1508h-2V1509.6h-2V1508.9h-2V1509.8h-2V1508.5h-2V1509h-2V1510.2h-2V1508.4h-2V1509.4h-2V1508.9h-2V1509.6h-2V1508.7h-2V1508.9h-2V1508.5h-2V1509.2h-2V1510.7h-2V1510.1h-2V1508.7h-2V1508.1h-2V1507.8h-2V1508.1h-2V1507.4h-2V1507h-2V1506.7h-2V1505.6h-2V1507.8h-2V1505h-2V1506.1h-2V1507.1h-2V1504h-2V1504.1h-2V1503.6h-2V1503.8h-2V1502.2h-2V1503.6h-2V1501h-2V1502.7h-2V1503.7h-2V1501h-2V1501.6h-2V1500.3h-2V1501.1h-2V1501.1h-2V1503h-2V1501.8h-2V1502.1h-2V1500h-2V1501h-2V1500h-2V1500.2h-2V1501.1h-2V1500.2h-2V1500h-2V1501.3h-2V1499.8h-2V1500.8h-2V1502h-2V1498.1h-2V1499h-2V1499.9h-2V1499.9h-2V1500.4h-2V1499.1h-2V1496.5h-2V1497.1h-2V1496.4h-2V1496.2h-2V1495.8h-2V1495.2h-2V1496.1h-2V1496.2h-2V1494.5h-2V1494.5h-2V1493.9h-2V1495.1h-2V1494.1h-2V1492.7h-2V1490.8h-2V1492.8h-2V1492.5h-2V1493h-2V1492.1h-2V1489.3h-2V1488.5h-2V1487.9h-2V1486.9h-2V1486.7h-2V1487.7h-2V1486.1h-2V1483.8h-2V1483.3h-2V1482.8h-2V1477.7h-2V1477.6h-2V1476.3h-2V1476.6h-2V1471.9h-2V1469.5h-2V1465h-2V1465.8h-2V1463.7h-2V1463.3h-2V1464.3h-2V1462.3h-2V1458h-2V1455.6h-2V1457.3h-2V1454.4h-2V1449.3h-2V1451.4h-2V1447.4h-2V1449.4h-2V1445.3h-2V1444.8h-2V1443.1h-2V1444.5h-2V1443.4h-2V1441.1h-2V1442.7h-2V1439.4h-2V1441h-2V1439.3h-2V1441.2h-2V1439.2h-2V1438.2h-2V1440.5h-2V1440.8h-2V1440.9h-2V1443.5h-2V1443h-2V1441.4h-2V1441.5h-2V1439.7h-2V1442h-2V1442.6h-2V1443h-2V1447.3h-2V1446.6h-2V1451.2h-2V1445.6h-2V1447.7h-2V1446h-2V1445.1h-2V1444.8h-2V1445h-2V1445.2h-2V1441.2h-2V1441.3h-2V1440.8h-2V1441.8h-2V1441.9h-2V1439.6h-2V1437.7h-2V1437.9h-2V1437.1h-2V1435.3h-2V1435.1h-2V1432.4h-2V1427.3h-2V1426.7h-2V1422.6h-2V1422.7h-2V1418.5h-2V1413.4h-2V1412.5h-2V1410.8h-2V1407.2h-2V1399.7h-2V1395.8h-2V1394.6h-2V1389.2h-2Z" stroke="none"/>
<path d="M49.5,1597.7h2V1604h2V1607.7h2V1609.7h2V1615.8h2V1617.3h2V1612.9h2V1622h2V1620.3h2V1624.9h2V1624.7h2V1626.4h2V1631h2V1635.9h2V1633.2h2V1635.2h2V1636.1h2V1639.7h2V1638.7h2V1639.5h2V1639h2V1635.6h2V1641.8h2V1639.8h2V1635.8h2V1640h2V1641.1h2V1637.7h2V1635.4h2V1638.3h2V1633.9h2V1633.8h2V1632.4h2V1634.1h2V1632.3h2V1631.7h2V1621.2h2V1628.5h2V1624.1h2V1623.1h2V1621.6h2V1622.5h2V1618.5h2V1620.2h2V1616.1h2V1619h2V1615h2V1616.2h2V1611.9h2V1608.9h2V1609.9h2V1615h2V1615.1h2V1615.8h2V1617.2h2V1616.4h2V1621.6h2V1619.8h2V1621.1h2V1621.9h2V1627.2h2V1629.3h2V1630.8h2V1632h2V1635.7h2V1636.6h2V1645.3h2V1641.3h2V1645.4h2V1646.1h2V1652.2h2V1654.1h2V1652.9h2V1657.4h2V1660.2h2V1663.1h2V1664.4h2V1668.8h2V1671.2h2V1670.5h2V1675h2V1673.7h2V1678.1h2V1677.8h2V1678.4h2V1680.1h2V1682.9h2V1682h2V1684.9h2V1685.2h2V1688.9h2V1689.5h2V1689.4h2V1691.4h2V1691.9h2V1691.7h2V1692.9h2V1692.6h2V1690h2V1694.5h2V1694.4h2V1696.7h2V1693.8h2V1695.7h2V1695.8h2V1695.7h2V1698h2V1697.5h2V1695.7h2V1699.1h2V1696.7h2V1699h2V1698.9h2V1696.2h2V1699.5h2V1700.1h2V1700.5h2V1700.8h2V1699.6h2V1700.6h2V1702.2h2V1701.8h2V1700.3h2V1701.6h2V1703h2V1703.3h2V1702.7h2V1701.6h2V1703.6h2V1703.2h2V1699.3h2V1702.4h2V1704.5h2V1703.1h2V1702.6h2V1703.1h2V1703.8h2V1704.8h2V1706.5h2V1705.9h2V1706.3h2V1706.3h2V1707.4h2V1706h2V1706.8h2V1708.7h2V1708.7h2V1708.7h2V1710.7h2V1710.1h2V1712.2h2V1712.5h2V1712.7h2V1712.5h2V1713.1h2V1713.6h2V1713.9h2V1714.7h2V1715.4h2V1714.2h2V1714.4h2V1714.1h2V1715.4h2V1714.9h2V1714h2V1715.9h2V1716.6h2V1717.1h2V1716.5h2V1715.9h2V1718h2V1716.9h2V1716.8h2V1716.6h2V1717.4h2V1716.3h2V1717.8h2V1718h2V1714.7h2V1717.4h2V1717.5h2V1718.7h2V1717.8h2V1718.7h2V1719.3h2V1719.4h2V1719h2V1720.1h2V1719.7h2V1719.3h2V1720.7h2V1719.5h2V1717.5h2V1720.3h2V1719h2V1719.6h2V1720h2V1720.1h2V1720.9h2V1720.3h2V1719.7h2V1719.3h2V1722.1h2V1721.2h2V1721.3h2V1720.6h2V1721.2h2V1721.3h2V1721h2V1721.6h2V1720.3h2V1720.6h2V1721.9h2V1722.3h2V1722h2V1720.4h2V1721.6h2V1721.9h2V1721.2h2V1721.2h2V1721.7h2V1721.6h2V1721.8h2V1721.8h2V1723.1h2V1722.4h2V1722.9h2V1721.7h2V1723.6h2V1722.3h2V1722.3h2V1723.1h2V1723.9h2V1724.3h2V1722.7h2V1722.5h2V1725.1h2V1723.3h2V1722.7h2V1724h2V1724h2V1724.5h2V1723.9h2V1725h2V1724.3h2V1723.6h2V1724.9h2V1725.1h2V1723.6h2V1724.5h2V1723.9h2V1723.4h2V1724.9h2V1725.4h2V1724.3h2V1724.7h2V1724.7h2V1724h2V1725.5h2V1725.2h2V1725.5h2V1725.5h2V1725.8h2V1725.3h2V1726.4h2V1725.7h2V1725.7h2V1725.4h2V1726.3h2V1724.6h2V1725.1h2V1725.4h2V1725.7h2V1725.6h2V1724.6h2V1725.3h2V1725.6h2V1725.8h2V1726.3h2V1725.1h2V1725.3h2V1726.1h2V1725.5h2V1726.6h2V1725.9h2V1726.5h2V1725.5h2V1726.4h2V1726.5h2V1725.4h2V1726.8h2V1726.8h2V1726.2h2V1725.5h2V1727.1h2V1726.3h2V1726.9h2V1727h2V1725.7h2V1727.9h2V1727.2h2V1727.1h2V1726.4h2V1725.6h2V1726.6h2V1726.7h2V1727.3h2V1726.1h2V1727.3h2V1727.8h2V1726.8h2V1726.8h2V1726.9h2V1726.6h2V1727h2V1727.5h2V1727.5h2V1727.4h2V1728.2h2V1733.3h-2V1731.8h-2V1733.2h-2V1732.2h-2V1733h-2V1733.3h-2V1733.7h-2V1732.1h-2V1733.1h-2V1733.5h-2V1732.8h-2V1731.8h-2V1731.6h-2V1733h-2V1733.9h-2V1732.6h-2V1734.1h-2V1734h-2V1733.2h-2V1732.7h-2V1733.6h-2V1732.7h-2V1733.3h-2V1733.1h-2V1733.4h-2V1732.3h-2V1732.5h-2V1731.6h-2V1733.1h-2V1732.8h-2V1732.3h-2V1733.6h-2V1731.8h-2V1731.9h-2V1732.8h-2V1730.6h-2V1731.7h-2V1731.1h-2V1731.7h-2V1731.9h-2V1732.9h-2V1732h-2V1732.2h-2V1732.1h-2V1731.5h-2V1732.9h-2V1731.6h-2V1731.8h-2V1731.6h-2V1730.3h-2V1732.7h-2V1730.3h-2V1731.7h-2V1731h-2V1731.3h-2V1732.3h-2V1731.3h-2V1730.3h-2V1732.5h-2V1731h-2V1731.2h-2V1729.9h-2V1731.7h-2V1731.1h-2V1731.3h-2V1733.9h-2V1731h-2V1731.3h-2V1729.9h-2V1730.8h-2V1730.9h-2V1729.7h-2V1729.1h-2V1728.8h-2V1730.7h-2V1730h-2V1731.2h-2V1730.1h-2V1729.7h-2V1729.8h-2V1730.2h-2V1730.6h-2V1730.1h-2V1729.3h-2V1730.4h-2V1730.3h-2V1729.3h-2V1729.5h-2V1729.5h-2V1729h-2V1729h-2V1729.7h-2V1728.3h-2V1729.8h-2V1727.7h-2V1729h-2V1730h-2V1728.3h-2V1728.2h-2V1728.8h-2V1728.2h-2V1727.8h-2V1727.9h-2V1728.6h-2V1727.5h-2V1728.1h-2V1729.6h-2V1727.4h-2V1728.2h-2V1726.9h-2V1727.1h-2V1727.7h-2V1728.5h-2V1728.2h-2V1727.4h-2V1725.9h-2V1727.3h-2V1727.3h-2V1727.5h-2V1726.4h-2V1726.5h-2V1727.1h-2V1725.9h-2V1725.9h-2V1727.4h-2V1726.8h-2V1725h-2V1725.2h-2V1725.5h-2V1727.4h-2V1725.4h-2V1726.1h-2V1724.6h-2V1725.3h-2V1724.6h-2V1726.1h-2V1725.6h-2V1723.7h-2V1724.7h-2V1725.2h-2V1723.2h-2V1724.5h-2V1723.4h-2V1723.2h-2V1724.6h-2V1723.5h-2V1723.9h-2V1723.9h-2V1723.7h-2V1723.7h-2V1722.8h-2V1724.6h-2V1722.9h-2V1721.6h-2V1721.6h-2V1721.6h-2V1722h-2V1719.8h-2V1722.2h-2V1722.1h-2V1720.4h-2V1720h-2V1719.8h-2V1721.1h-2V1720.1h-2V1718.3h-2V1718.4h-2V1719.5h-2V1719.5h-2V1719h-2V1717.9h-2V1718.1h-2V1716.4h-2V1716.4h-2V1715.8h-2V1715.3h-2V1716.6h-2V1714.4h-2V1711.3h-2V1714.7h-2V1712.6h-2V1711.7h-2V1712.3h-2V1711.6h-2V1711.3h-2V1710.6h-2V1713.4h-2V1709.8h-2V1712.8h-2V1710.2h-2V1710h-2V1710.2h-2V1709.9h-2V1712.3h-2V1710.1h-2V1709.6h-2V1710.7h-2V1708.9h-2V1710.8h-2V1708.9h-2V1712.7h-2V1709.1h-2V1707.5h-2V1709.5h-2V1706.1h-2V1706.2h-2V1706.2h-2V1707.4h-2V1706.6h-2V1707h-2V1706.5h-2V1705h-2V1703.7h-2V1704.9h-2V1704.1h-2V1704.1h-2V1701.7h-2V1703.3h-2V1702.9h-2V1702.1h-2V1703.3h-2V1702.5h-2V1699.1h-2V1698.4h-2V1699.7h-2V1698.6h-2V1696h-2V1696.6h-2V1695.8h-2V1696.4h-2V1694.2h-2V1693.6h-2V1692.2h-2V1692.8h-2V1689h-2V1687.8h-2V1687.9h-2V1683.6h-2V1684h-2V1681.5h-2V1679.3h-2V1678.2h-2V1676.3h-2V1671.1h-2V1671.7h-2V1671h-2V1665h-2V1666.8h-2V1663.5h-2V1660.8h-2V1657.8h-2V1659h-2V1660h-2V1655.2h-2V1647.6h-2V1644.6h-2V1644.7h-2V1646.8h-2V1641.9h-2V1633.8h-2V1634.6h-2V1637.6h-2V1636.4h-2V1628.5h-2V1630.2h-2V1629.9h-2V1630.1h-2V1624h-2V1628.6h-2V1622.6h-2V1626.8h-2V1629.7h-2V1628.7h-2V1635.3h-2V1631.3h-2V1631.4h-2V1632.7h-2V1633.6h-2V1637.1h-2V1635.6h-2V1639.5h-2V1640.2h-2V1640.4h-2V1643.8h-2V1642.8h-2V1645.9h-2V1646.4h-2V1644.5h-2V1651h-2V1651.4h-2V1648.5h-2V1648.2h-2V1650.4h-2V1650.7h-2V1651.6h-2V1650.6h-2V1649.2h-2V1654.8h-2V1654.1h-2V1651.3h-2V1652.3h-2V1651.8h-2V1648.3h-2V1645.2h-2V1651h-2V1646.3h-2V1645.5h-2V1638.7h-2V1642.9h-2V1636.8h-2V1640.2h-2V1632.1h-2V1632.9h-2V1631h-2V1627.4h-2V1630.2h-2V1622.4h-2V1618.4h-2V1617.1h-2Z" stroke="none"/>
<path d="M751.9,1043.9h2V1054.1h2V1059.8h2V1064.4h2V1063.5h2V1068.8h2V1078.1h2V1069.8h2V1074.6h2V1082.1h2V1082.1h2V1087.1h2V1087.1h2V1088.6h2V1090.4h2V1095.2h2V1098.8h2V1101h2V1098.3h2V1096.5h2V1095.7h2V1097.7h2V1093.3h2V1094.7h2V1092.1h2V1087.4h2V1087.4h2V1091.3h2V1087.3h2V1081.1h2V1080.6h2V1078.3h2V1070.3h2V1070h2V1066.4h2V1059.2h2V1058.2h2V1048.5h2V1055.1h2V1048.5h2V1043.4h2V1039.5h2V1040.8h2V1035.1h2V1034.6h2V1026.3h2V1022.4h2V1019.5h2V1019.8h2V1015.4h2V1013.2h2V1013.9h2V1014.3h2V1011.8h2V1011.2h2V1007.5h2V1010h2V1017.6h2V1022.2h2V1021.7h2V1030.1h2V1028.8h2V1039.7h2V1042.2h2V1044.9h2V1050.7h2V1060h2V1064.7h2V1077.3h2V1081.5h2V1091.4h2V1093.6h2V1101.4h2V1109.5h2V1111.6h2V1119h2V1125.1h2V1127.7h2V1130.5h2V1143.4h2V1147.5h2V1151.4h2V1156.1h2V1162.2h2V1159.8h2V1167.3h2V1168h2V1170.6h2V1174.1h2V1175.1h2V1178.7h2V1179.3h2V1182.8h2V1184.1h2V1184.3h2V1186.7h2V1188.2h2V1188.5h2V1189.8h2V1191.2h2V1193.3h2V1190.6h2V1192.2h2V1193.3h2V1192.1h2V1196.9h2V1196.7h2V1199.9h2V1201.2h2V1200.3h2V1204.3h2V1201.6h2V1200.8h2V1205.5h2V1204.6h2V1202.9h2V1204.5h2V1206.4h2V1209.1h2V1205.3h2V1206.7h2V1208.1h2V1208.2h2V1210h2V1208.2h2V1207.4h2V1207.9h2V1209.4h2V1209.2h2V1207.5h2V1206.3h2V1204.9h2V1206.5h2V1205.3h2V1207.3h2V1211.9h2V1213.8h2V1217.8h2V1216.5h2V1220.9h2V1217.6h2V1222.9h2V1222.2h2V1223.9h2V1224.8h2V1227.5h2V1229.9h2V1228.5h2V1231.4h2V1230.9h2V1232.9h2V1233.3h2V1232.7h2V1233.9h2V1235.8h2V1234.3h2V1236.1h2V1238.3h2V1236.3h2V1239.1h2V1242.8h2V1242.9h2V1242.7h2V1243.1h2V1245.2h2V1243.6h2V1244.9h2V1246.8h2V1247.1h2V1248.1h2V1249.2h2V1248.3h2V1249h2V1249.5h2V1248.9h2V1251.7h2V1250.3h2V1251.6h2V1253.8h2V1253.9h2V1254.4h2V1253.8h2V1255h2V1255.4h2V1254.5h2V1255.1h2V1254.8h2V1254h2V1255.8h2V1256.2h2V1256.9h2V1257h2V1255.4h2V1257.4h2V1257.7h2V1257h2V1259.1h2V1258.3h2V1258.1h2V1259.2h2V1259.6h2V1259.3h2V1260.6h2V1260.4h2V1260.6h2V1261.8h2V1260.3h2V1261.6h2V1262.5h2V1261.6h2V1264h2V1262.7h2V1264h2V1263.3h2V1263.3h2V1260.7h2V1263.1h2V1264.4h2V1263.2h2V1262.9h2V1265.5h2V1264.8h2V1264.5h2V1265.2h2V1264.5h2V1264.9h2V1264.1h2V1265.1h2V1266.1h2V1266.1h2V1266h2V1267.1h2V1266.6h2V1266.8h2V1267.8h2V1266.9h2V1266h2V1267.1h2V1266.4h2V1266.5h2V1268.2h2V1267.4h2V1266.9h2V1266.1h2V1268.1h2V1267.9h2V1266.2h2V1267.6h2V1267.1h2V1268.8h2V1268.4h2V1269.1h2V1269h2V1268.8h2V1268.9h2V1270.3h2V1268.7h2V1268.5h2V1269.1h2V1270h2V1269.4h2V1269.1h2V1269.2h2V1269.7h2V1268.4h2V1270.7h2V1270.3h2V1269.8h2V1270.8h2V1269.5h2V1269.8h2V1270.8h2V1270.4h2V1269.8h2V1270.4h2V1269.2h2V1269.6h2V1270.2h2V1270h2V1270.6h2V1270.9h2V1269.7h2V1270.9h2V1268.7h2V1271.1h2V1269.6h2V1270.6h2V1271.9h2V1271.8h2V1270.2h2V1270h2V1270.4h2V1271.2h2V1270.8h2V1271.5h2V1270h2V1270.8h2V1270.9h2V1271.2h2V1271.3h2V1272.2h2V1272.5h2V1270.6h2V1271.6h2V1271.9h2V1272h2V1271.2h2V1272.4h2V1271.7h2V1271.6h2V1272.4h2V1277.8h-2V1278h-2V1277.2h-2V1279.1h-2V1278.3h-2V1278.2h-2V1278.5h-2V1277.3h-2V1278.3h-2V1277.4h-2V1278.5h-2V1277.1h-2V1278.4h-2V1277.2h-2V1277.6h-2V1276.3h-2V1277.2h-2V1276.8h-2V1277.4h-2V1277.2h-2V1276.8h-2V1277.3h-2V1276.7h-2V1276.1h-2V1276.9h-2V1275.4h-2V1277h-2V1277.2h-2V1276.7h-2V1276.4h-2V1276.3h-2V1276.9h-2V1276.1h-2V1276.4h-2V1276.1h-2V1276.5h-2V1275.9h-2V1275.5h-2V1276.8h-2V1277h-2V1276.4h-2V1276.5h-2V1275.7h-2V1276.4h-2V1276.4h-2V1275.1h-2V1275.2h-2V1276.7h-2V1276.5h-2V1275.7h-2V1275.3h-2V1275.1h-2V1274.9h-2V1275.1h-2V1275.5h-2V1274.3h-2V1274.5h-2V1274.5h-2V1275.1h-2V1274.3h-2V1275.1h-2V1275h-2V1274.2h-2V1275h-2V1274h-2V1273.5h-2V1275h-2V1274.2h-2V1273.4h-2V1273.6h-2V1273.4h-2V1272.9h-2V1273h-2V1273.9h-2V1273.5h-2V1273h-2V1273.7h-2V1273.6h-2V1271.9h-2V1272.7h-2V1273.4h-2V1274h-2V1273.3h-2V1272.6h-2V1273.7h-2V1272h-2V1271h-2V1271.5h-2V1271.6h-2V1274.1h-2V1270.6h-2V1270.5h-2V1271h-2V1270.7h-2V1269.9h-2V1269.2h-2V1268.8h-2V1269.4h-2V1268.7h-2V1270.6h-2V1270.8h-2V1267.7h-2V1269.4h-2V1267.6h-2V1267.6h-2V1268.6h-2V1268.9h-2V1268.1h-2V1266.3h-2V1266.5h-2V1265h-2V1265.5h-2V1265.1h-2V1266.4h-2V1265h-2V1263.6h-2V1265.2h-2V1264.4h-2V1265.5h-2V1263.4h-2V1263h-2V1261.8h-2V1262.7h-2V1261.7h-2V1261.6h-2V1262.6h-2V1261.4h-2V1261.9h-2V1260.3h-2V1261.3h-2V1261.1h-2V1258.6h-2V1260.4h-2V1259.2h-2V1260.6h-2V1258.9h-2V1258h-2V1257.3h-2V1257.3h-2V1255h-2V1254.9h-2V1256.2h-2V1253.9h-2V1254.3h-2V1252.1h-2V1253.7h-2V1254.1h-2V1251.4h-2V1251.2h-2V1249.4h-2V1249.2h-2V1247.4h-2V1248.2h-2V1246.4h-2V1244.8h-2V1244.3h-2V1245.5h-2V1241.9h-2V1242.4h-2V1241.2h-2V1242.5h-2V1239.3h-2V1239.9h-2V1235.4h-2V1237.5h-2V1236.9h-2V1233.7h-2V1235.5h-2V1231.6h-2V1232.2h-2V1229.2h-2V1228.3h-2V1230.4h-2V1225.7h-2V1224.7h-2V1223.7h-2V1219.1h-2V1215.9h-2V1214.8h-2V1213h-2V1216.2h-2V1214.9h-2V1216.1h-2V1216.6h-2V1220.1h-2V1217.9h-2V1217.6h-2V1218.5h-2V1220.1h-2V1218.9h-2V1217.3h-2V1215.5h-2V1214.9h-2V1215.3h-2V1215.8h-2V1216.5h-2V1214.5h-2V1212.1h-2V1214.3h-2V1211h-2V1212h-2V1210.6h-2V1208.7h-2V1208.1h-2V1207.6h-2V1207.3h-2V1206.9h-2V1207.4h-2V1203.1h-2V1202.7h-2V1203.2h-2V1201.7h-2V1199.6h-2V1197.4h-2V1197.9h-2V1197.7h-2V1194.3h-2V1191.6h-2V1192h-2V1191.2h-2V1187.4h-2V1187.4h-2V1184.6h-2V1183h-2V1181.1h-2V1179.8h-2V1172.6h-2V1170.3h-2V1164.9h-2V1163.6h-2V1160.3h-2V1156.7h-2V1152h-2V1147.1h-2V1144.3h-2V1136.4h-2V1131.3h-2V1124.3h-2V1113.4h-2V1113.8h-2V1108.2h-2V1103.9h-2V1092.4h-2V1085.3h-2V1071.8h-2V1071.8h-2V1064.7h-2V1058.9h-2V1060.5h-2V1048.2h-2V1051.1h-2V1041.3h-2V1031.6h-2V1033.7h-2V1031.6h-2V1027.6h-2V1036.7h-2V1028.8h-2V1028.7h-2V1030.9h-2V1033.3h-2V1033.1h-2V1033.3h-2V1039.9h-2V1039.4h-2V1047.8h-2V1048.6h-2V1054.7h-2V1054.1h-2V1056.4h-2V1064.1h-2V1066.5h-2V1073.1h-2V1071.9h-2V1072.7h-2V1075.6h-2V1083.8h-2V1080.3h-2V1093.6h-2V1094.4h-2V1095.1h-2V1100.9h-2V1101.4h-2V1102.4h-2V1106h-2V1109.4h-2V1105.3h-2V1115.6h-2V1111.8h-2V1115.2h-2V1116.4h-2V1115.5h-2V1114.7h-2V1113.6h-2V1116.7h-2V1110.8h-2V1112.3h-2V1100.9h-2V1099.6h-2V1099h-2V1095.6h-2V1096.9h-2V1099.2h-2V1096.9h-2V1090.6h-2V1089.3h-2V1088.7h-2V1080.9h-2V1079h-2V1081.5h-2V1068.2h-2Z" stroke="none"/>
<path d="M772,1656.8h2V1676.6h2V1687h2V1691.9h2V1695.6h2V1696.1h2V1700.6h2V1695.8h2V1702.3h2V1699.6h2V1701.5h2V1704.6h2V1708.1h2V1704.5h2V1708.6h2V1705h2V1706.5h2V1709.2h2V1709.4h2V1708.7h2V1707.3h2V1707.5h2V1707.8h2V1706.5h2V1708.8h2V1710.1h2V1710h2V1708.5h2V1711.8h2V1712.8h2V1710.8h2V1713.1h2V1712.9h2V1713.3h2V1714.9h2V1711h2V1712.8h2V1714.7h2V1716.1h2V1716.1h2V1715.7h2V1717h2V1716.1h2V1718.8h2V1718.8h2V1718.1h2V1718.9h2V1719.8h2V1716.5h2V1717.8h2V1720.3h2V1719h2V1719.1h2V1719.9h2V1719.9h2V1719.6h2V1721.6h2V1720.5h2V1719.1h2V1721.5h2V1720.7h2V1722.9h2V1719.3h2V1720.3h2V1719.7h2V1720.3h2V1719.8h2V1721.4h2V1720.4h2V1720h2V1717.7h2V1720.9h2V1719.4h2V1720.4h2V1720.5h2V1720.1h2V1719.1h2V1718.7h2V1719.7h2V1720.4h2V1719.9h2V1719.6h2V1717.8h2V1720.3h2V1718.5h2V1719.9h2V1718.3h2V1718.9h2V1719.1h2V1721.4h2V1718.6h2V1721.4h2V1719.4h2V1719.5h2V1720h2V1719.7h2V1718.7h2V1720h2V1722.4h2V1718h2V1720.9h2V1722.1h2V1721.3h2V1720.2h2V1721.3h2V1722.4h2V1723h2V1724.2h2V1725.2h2V1721.7h2V1724.7h2V1723.1h2V1723.8h2V1723h2V1725.9h2V1725.6h2V1725h2V1724.1h2V1726.5h2V1721.7h2V1723.7h2V1726h2V1726.9h2V1727.3h2V1727.6h2V1729.8h2V1729h2V1730.7h2V1728.7h2V1730.3h2V1729.8h2V1731.9h2V1730.6h2V1732.2h2V1731.8h2V1730.5h2V1730.4h2V1732.5h2V1732.8h2V1732.1h2V1733.2h2V1733.8h2V1732.5h2V1732.4h2V1732.9h2V1733.9h2V1734.4h2V1733.5h2V1734.4h2V1733.5h2V1733.9h2V1734.7h2V1735h2V1733.1h2V1735.5h2V1733.5h2V1733.8h2V1733.6h2V1733.9h2V1734.9h2V1734.9h2V1734.2h2V1734.9h2V1734.5h2V1734.7h2V1736.5h2V1736h2V1735.5h2V1735.3h2V1735.5h2V1735.8h2V1734.8h2V1735.1h2V1734.9h2V1735.4h2V1736.2h2V1735.7h2V1736.3h2V1736h2V1735.9h2V1734.5h2V1735.9h2V1736.2h2V1736.9h2V1736.1h2V1736.6h2V1735.2h2V1736.7h2V1735.7h2V1736.6h2V1735.8h2V1735.2h2V1735h2V1735.9h2V1735.7h2V1735.5h2V1736.6h2V1737.6h2V1736.9h2V1735.7h2V1735.5h2V1735.8h2V1736.6h2V1734.5h2V1736.7h2V1736.2h2V1735.2h2V1736.7h2V1736.9h2V1736.3h2V1737.3h2V1737.7h2V1737h2V1737.2h2V1735.3h2V1736.4h2V1736.8h2V1736.1h2V1736.3h2V1736.6h2V1736.8h2V1737.8h2V1736.9h2V1736.3h2V1737.1h2V1737.2h2V1737.5h2V1737.1h2V1736.8h2V1735.5h2V1737.6h2V1738h2V1737.4h2V1737.6h2V1737.9h2V1736.6h2V1735.6h2V1735.5h2V1737.2h2V1736.9h2V1736.9h2V1737.5h2V1738h2V1737.3h2V1736.9h2V1737.9h2V1738.3h2V1737.9h2V1736.3h2V1738.6h2V1737.5h2V1736.1h2V1735.7h2V1738h2V1736.6h2V1737.5h2V1738.2h2V1737.8h2V1738h2V1737.9h2V1737.2h2V1737.2h2V1738.1h2V1737.5h2V1738h2V1738.8h2V1738.3h2V1738.8h2V1737.6h2V1736.1h2V1737.1h2V1738.1h2V1737.8h2V1737.9h2V1738.3h2V1738.1h2V1736.6h2V1738.4h2V1737.5h2V1738.3h2V1738.6h2V1738.7h2V1737.9h2V1738.4h2V1738.4h2V1738.5h2V1737.9h2V1737.5h2V1739h2V1737.9h2V1738.7h2V1738.6h2V1738.3h2V1736.6h2V1738.1h2V1738.9h2V1738.8h2V1738.9h2V1737.9h2V1739.2h2V1738.9h2V1743.2h-2V1744.6h-2V1744.2h-2V1743.1h-2V1745.2h-2V1744.2h-2V1743.4h-2V1743.7h-2V1743.9h-2V1744.2h-2V1744.7h-2V1744.5h-2V1743.1h-2V1745.6h-2V1743.8h-2V1745.1h-2V1745.4h-2V1745.2h-2V1744.3h-2V1743.4h-2V1744.2h-2V1745.1h-2V1744.9h-2V1744.6h-2V1743.1h-2V1743.5h-2V1745.3h-2V1743.6h-2V1744.2h-2V1744h-2V1743.5h-2V1744.3h-2V1743.8h-2V1743.9h-2V1743.2h-2V1743h-2V1743.4h-2V1743.3h-2V1743.4h-2V1743.5h-2V1744.6h-2V1743.2h-2V1742.9h-2V1745.1h-2V1743.1h-2V1743.4h-2V1743.5h-2V1742.1h-2V1742.5h-2V1744.1h-2V1742.5h-2V1744.8h-2V1743.4h-2V1744h-2V1743.1h-2V1743.3h-2V1743.3h-2V1743.5h-2V1744.4h-2V1743.5h-2V1742.6h-2V1742.5h-2V1743.4h-2V1743.3h-2V1742.6h-2V1741.6h-2V1743.1h-2V1743.4h-2V1744.2h-2V1744.1h-2V1742.8h-2V1743h-2V1743.8h-2V1743.4h-2V1743.6h-2V1741.7h-2V1743.5h-2V1741.3h-2V1743.6h-2V1744.4h-2V1745.3h-2V1743.1h-2V1743.4h-2V1742.8h-2V1744.4h-2V1742.8h-2V1741.9h-2V1742h-2V1742.7h-2V1743.3h-2V1743h-2V1742.9h-2V1743h-2V1742.4h-2V1742h-2V1743.1h-2V1743h-2V1741.7h-2V1742.9h-2V1741.9h-2V1743.4h-2V1742.8h-2V1742.7h-2V1743.9h-2V1743h-2V1742.2h-2V1741.7h-2V1742.8h-2V1741.4h-2V1744.7h-2V1741.7h-2V1743.5h-2V1742.4h-2V1741.8h-2V1741.7h-2V1741.6h-2V1742.6h-2V1741.5h-2V1741.1h-2V1741.4h-2V1741.6h-2V1741.6h-2V1742h-2V1740.8h-2V1742.2h-2V1740.7h-2V1740.7h-2V1743.3h-2V1740.4h-2V1742.3h-2V1740.8h-2V1740.5h-2V1740.4h-2V1740.6h-2V1741.9h-2V1742.8h-2V1742.8h-2V1742.5h-2V1740.7h-2V1741.9h-2V1741.9h-2V1741.5h-2V1741.5h-2V1740.3h-2V1741.2h-2V1743.6h-2V1740.9h-2V1740.8h-2V1741.7h-2V1741.3h-2V1741.1h-2V1741.8h-2V1740h-2V1741h-2V1740.4h-2V1740.1h-2V1740.2h-2V1740h-2V1739.4h-2V1738.7h-2V1738.2h-2V1739.7h-2V1739.4h-2V1739.8h-2V1738.8h-2V1738h-2V1738.6h-2V1738.5h-2V1738.5h-2V1737.5h-2V1738.4h-2V1737.6h-2V1737.4h-2V1737.6h-2V1737h-2V1735.6h-2V1737.8h-2V1735.6h-2V1737.6h-2V1735.3h-2V1733.2h-2V1731.8h-2V1732.7h-2V1733h-2V1732h-2V1735h-2V1731.9h-2V1733.1h-2V1731.6h-2V1732.4h-2V1732.8h-2V1730.7h-2V1732h-2V1731.9h-2V1732.1h-2V1732.5h-2V1730.7h-2V1730h-2V1728.5h-2V1728.2h-2V1728.2h-2V1729.9h-2V1729.4h-2V1728.7h-2V1729.5h-2V1726.3h-2V1727.6h-2V1730.1h-2V1727.6h-2V1729.8h-2V1728.9h-2V1727.9h-2V1727.9h-2V1728.6h-2V1728h-2V1726.2h-2V1726.7h-2V1726.8h-2V1727.9h-2V1727.1h-2V1727.7h-2V1726.8h-2V1727.9h-2V1729.2h-2V1728.3h-2V1727.4h-2V1728.6h-2V1728.7h-2V1730h-2V1729.5h-2V1729.5h-2V1730.5h-2V1728h-2V1727.5h-2V1727.1h-2V1728.2h-2V1730.1h-2V1727.8h-2V1728.7h-2V1727.7h-2V1728.9h-2V1730.1h-2V1729.6h-2V1729.6h-2V1726.5h-2V1728.3h-2V1729.1h-2V1728.2h-2V1727.4h-2V1727.8h-2V1727h-2V1729.4h-2V1726.5h-2V1728.7h-2V1726.9h-2V1725.5h-2V1725.2h-2V1726.9h-2V1725.2h-2V1726.8h-2V1727.1h-2V1726.1h-2V1724h-2V1723.4h-2V1723.5h-2V1723.6h-2V1722.3h-2V1727.8h-2V1721.9h-2V1719.9h-2V1721.5h-2V1722.4h-2V1720.6h-2V1721.2h-2V1722.2h-2V1720.2h-2V1719.2h-2V1717.8h-2V1718h-2V1719.3h-2V1718.7h-2V1718.7h-2V1719.1h-2V1716.4h-2V1716.7h-2V1718.1h-2V1719.9h-2V1717.1h-2V1714.4h-2V1715.6h-2V1717.4h-2V1712.2h-2V1710h-2V1709.7h-2V1709.2h-2V1707.6h-2V1704.4h-2V1700.6h-2V1698.8h-2V1689.6h-2V1675.8h-2Z" stroke="none"/>
<path d="M751.6,1695 752.3,1694.3 753,1693.9 753.7,1692.3 754.4,1691.3 755.1,1691.7 755.8,1690.7 756.5,1688.2 757.2,1687.4 757.9,1685.8 758.6,1683.6 759.3,1678.6 760,1676.5 760.7,1670.3 761.4,1662.8 762.1,1653.2 762.8,1638.4 763,1633.2 763.1,1630.5 763.2,1627.2 763.4,1623 763.5,1618.8 763.6,1615.7 763.7,1610.3 763.8,1605 764,1600.1 764.1,1594.5 764.2,1589 764.3,1582.9 764.4,1576.2 764.6,1568.5 764.7,1561.1 764.8,1552.4 764.9,1544 765,1535.4 765.2,1525.1 765.3,1515.4 765.4,1505.6 765.5,1494.4 765.6,1483.5 765.8,1472.3 765.9,1461.2 766,1450.2 766.1,1439.7 766.2,1429.8 766.4,1420.6 766.5,1412.5 766.6,1405.8 766.7,1400.6 766.8,1397.2 767,1395.6 767.1,1395.9 767.2,1398.1 767.3,1402.2 767.4,1407.9 767.6,1415.1 767.7,1423.5 767.8,1433 767.9,1443.2 768,1453.8 768.2,1465 768.3,1476.3 768.4,1487.7 768.5,1498.2 768.6,1509.2 768.8,1519.1 768.9,1529 769,1538.7 769.1,1547.6 769.2,1556.2 769.4,1563.5 769.5,1571.9 769.6,1579 769.7,1585.5 769.8,1592 770,1598.6 770.1,1603.4 770.2,1608.4 770.3,1612.9 770.4,1618.1 770.6,1621.7 770.7,1626.5 770.8,1629.3 770.9,1632.7 771,1636.3 771.2,1640.4 771.3,1642.9 771.4,1645.2 771.5,1646.8 772.2,1660 772.9,1668.4 773.6,1675.6 774.3,1680.6 775,1684.8 775.7,1688.4" fill="none" stroke-width="3.0" stroke-linejoin="round"/>
<line x1="871.7" y1="1365.7" x2="871.7" y2="1646.7" stroke-width="1.3"/>
<line x1="871.7" y1="1645.2" x2="1348.3" y2="1645.2" stroke-width="1.3"/>
<line x1="871.7" y1="1645.2" x2="871.7" y2="1647.7" stroke-width="1"/>
<line x1="899.7" y1="1645.2" x2="899.7" y2="1648.7" stroke-width="1"/>
<line x1="927.8" y1="1645.2" x2="927.8" y2="1647.7" stroke-width="1"/>
<line x1="955.8" y1="1645.2" x2="955.8" y2="1648.7" stroke-width="1"/>
<line x1="983.8" y1="1645.2" x2="983.8" y2="1647.7" stroke-width="1"/>
<line x1="1011.9" y1="1645.2" x2="1011.9" y2="1648.7" stroke-width="1"/>
<line x1="1039.9" y1="1645.2" x2="1039.9" y2="1647.7" stroke-width="1"/>
<line x1="1067.9" y1="1645.2" x2="1067.9" y2="1648.7" stroke-width="1"/>
<line x1="1096" y1="1645.2" x2="1096" y2="1647.7" stroke-width="1"/>
<line x1="1124" y1="1645.2" x2="1124" y2="1648.7" stroke-width="1"/>
<line x1="1152.1" y1="1645.2" x2="1152.1" y2="1647.7" stroke-width="1"/>
<line x1="1180.1" y1="1645.2" x2="1180.1" y2="1648.7" stroke-width="1"/>
<line x1="1208.1" y1="1645.2" x2="1208.1" y2="1647.7" stroke-width="1"/>
<line x1="1236.2" y1="1645.2" x2="1236.2" y2="1648.7" stroke-width="1"/>
<line x1="1264.2" y1="1645.2" x2="1264.2" y2="1647.7" stroke-width="1"/>
<line x1="1292.2" y1="1645.2" x2="1292.2" y2="1648.7" stroke-width="1"/>
<line x1="1320.3" y1="1645.2" x2="1320.3" y2="1647.7" stroke-width="1"/>
<line x1="1348.3" y1="1645.2" x2="1348.3" y2="1648.7" stroke-width="1"/>
<path d="M872.2,1628.8 872.8,1628.7 873.4,1628.7 874,1628.6 874.6,1628.9 875.2,1628.6 875.8,1628.7 876.4,1628.9 877,1629 877.6,1629.1 878.2,1628.9 878.8,1628.9 879.4,1628.7 880,1628.5 880.6,1628.8 881.2,1629.2 881.8,1628.9 882.4,1629.1 883,1628.6 883.6,1628.5 884.2,1629 884.8,1628.8 885.4,1628.5 886,1628.4 886.6,1628.6 887.2,1628.3 887.8,1628.7 888.4,1629.1 889,1628.9 889.6,1628.3 890.2,1628.8 890.8,1628.9 891.4,1628.8 892,1628.9 892.6,1628.9 893.2,1628.8 893.8,1629.3 894.4,1628.5 895,1628.6 895.6,1628.6 896.2,1629.5 896.8,1628.2 897.4,1628.8 898,1628.6 898.6,1628.7 899.2,1628.7 899.8,1629 900.4,1628.8 901,1628.5 901.6,1628.8 902.2,1628.8 902.8,1628.7 903.4,1628.3 904,1629 904.6,1628.8 905.2,1628.7 905.8,1628.9 906.4,1628.5 907,1628.4 907.6,1628.7 908.2,1628.4 908.8,1628.6 909.4,1628.6 910,1628.5 910.6,1628.6 911.2,1628.3 911.8,1629 912.4,1628.2 913,1628.7 913.6,1628.9 914.2,1628.9 914.8,1628.2 915.4,1628.8 916,1628.8 916.6,1628.6 917.2,1628.8 917.8,1628.8 918.4,1628.1 919,1628.7 919.6,1629 920.2,1629.2 920.8,1628.6 921.4,1628.5 922,1628.7 922.6,1629 923.2,1628.8 923.8,1629.3 924.4,1628.4 925,1628.6 925.6,1628.7 926.2,1628.6 926.8,1628.8 927.4,1628.8 928,1628.2 928.6,1628.8 929.2,1628.4 929.8,1628.6 930.4,1628.4 931,1628.6 931.6,1628.6 932.2,1628.8 932.8,1628.7 933.4,1628.8 934,1629.1 934.6,1629 935.2,1628.4 935.8,1628.7 936.4,1629.1 937,1628.1 937.6,1628.7 938.2,1628.5 938.8,1629 939.4,1628.8 940,1629 940.6,1628.8 941.2,1628.6 941.8,1628.4 942.4,1628.2 943,1628.4 943.6,1629 944.2,1628.6 944.8,1629 945.4,1628.4 946,1628.4 946.6,1628.5 947.2,1628.8 947.8,1628.5 948.4,1628.9 949,1628.3 949.6,1628.7 950.2,1629 950.8,1629.1 951.4,1629.3 952,1628.8 952.6,1628.5 953.2,1629 953.8,1628.2 954.4,1628.7 955,1628.7 955.6,1628.4 956.2,1628.4 956.8,1628.4 957.4,1628.6 958,1629 958.6,1629.2 959.2,1628.9 959.8,1628.6 960.4,1628.5 961,1629.1 961.6,1629 962.2,1628.5 962.8,1628.5 963.4,1628.7 964,1627.9 964.6,1628.2 965.2,1628.4 965.8,1628.6 966.4,1628.6 967,1628.5 967.6,1628.7 968.2,1628.6 968.8,1628.9 969.4,1628.7 970,1628.5 970.6,1628.7 971.2,1628.3 971.8,1628.6 972.4,1628.1 973,1628.8 973.6,1628.4 974.2,1628.9 974.8,1628.6 975.4,1628.3 976,1628.3 976.6,1628.3 977.2,1628.7 977.8,1628 978.4,1628.4 979,1628.6 979.6,1628.6 980.2,1628.2 980.8,1628 981.4,1627.6 982,1628 982.6,1627.9 983.2,1626.7 983.8,1626.9 984.4,1627.2 985,1626.7 985.6,1626.7 986.2,1626.1 986.8,1625.4 987.4,1624.5 988,1623.7 988.1,1623.4 988.2,1622.8 988.3,1622.9 988.4,1622.3 988.5,1621.6 988.6,1621.5 988.7,1620.8 988.8,1620.8 988.9,1620.4 989,1619.8 989.1,1618.8 989.2,1618.4 989.3,1617.4 989.4,1617.1 989.5,1616.6 989.6,1615.5 989.7,1614.7 989.8,1613.5 989.9,1612 990,1610.8 990.1,1609.3 990.2,1607.9 990.3,1606 990.4,1603.3 990.5,1600.8 990.6,1598.3 990.7,1594.9 990.8,1590.7 990.9,1586.6 991,1580.6 991.1,1574.5 991.2,1566.7 991.3,1557.9 991.4,1546.5 991.5,1533.8 991.6,1518 991.7,1498.8 991.8,1478.1 991.9,1455.2 992,1431.2 992.1,1410.3 992.2,1394.8 992.3,1388.9 992.4,1394.9 992.5,1410.2 992.6,1431.6 992.7,1455.2 992.8,1478.5 992.9,1499.6 993,1517.7 993.1,1533.9 993.2,1546.7 993.3,1557.2 993.4,1566.3 993.5,1574.7 993.6,1581 993.7,1586.4 993.8,1590.6 993.9,1594.9 994,1598.2 994.1,1600.6 994.2,1603.5 994.3,1605.7 994.4,1607.2 994.5,1609.1 994.6,1610.9 994.7,1612.5 994.8,1613.5 994.9,1614.5 995,1615.5 995.1,1616.6 995.2,1617.1 995.3,1618 995.4,1618.8 995.5,1619.3 995.6,1620 995.7,1620.2 995.8,1620.8 995.9,1620.8 996,1621.4 996.1,1622.5 996.2,1621.9 996.3,1622 996.4,1622.8 996.5,1623.1 996.6,1623.7 996.7,1623.7 996.8,1623.9 996.9,1623.8 997,1624.6 997.6,1625.5 998.2,1626.1 998.8,1626.3 999.4,1626.9 1000,1626.8 1000.6,1627.1 1001.2,1627.6 1001.8,1627.7 1002.4,1627.5 1003,1627.7 1003.6,1628.1 1004.2,1628.2 1004.8,1627.9 1005.4,1628.1 1006,1627.8 1006.6,1628.3 1007.2,1628.2 1007.8,1628.3 1008.4,1628.3 1009,1628.7 1009.6,1628.5 1010.2,1628.4 1010.8,1628.5 1011.4,1628.4 1012,1628.2 1012.6,1628.4 1013.2,1627.9 1013.8,1628.6 1014.4,1628.4 1015,1628.6 1015.6,1628.2 1016.2,1628.4 1016.8,1628.4 1017.4,1628.3 1018,1628.1 1018.6,1628.5 1019.2,1628.3 1019.8,1628.9 1020.4,1628.5 1021,1628.6 1021.6,1628.7 1022.2,1628.3 1022.8,1628.8 1023.4,1628.5 1024,1629 1024.6,1628.8 1025.2,1628.9 1025.8,1628.6 1026.4,1628.4 1027,1628.7 1027.6,1628.4 1028.2,1628.7 1028.8,1628.6 1029.4,1628.6 1030,1628.5 1030.6,1628.8 1031.2,1629.1 1031.8,1628.3 1032.4,1628.4 1033,1628.6 1033.6,1629.3 1034.2,1628.5 1034.8,1629.1 1035.4,1628.5 1036,1628.6 1036.6,1628.6 1037.2,1628.4 1037.8,1628.8 1038.4,1628.6 1039,1628.3 1039.6,1628.9 1040.2,1628.8 1040.8,1628.6 1041.4,1628.9 1042,1628.8 1042.6,1628.4 1043.2,1629.2 1043.8,1628.7 1044.4,1628.6 1045,1629.1 1045.6,1628.8 1046.2,1628.6 1046.8,1628.9 1047.4,1628.4 1048,1629.1 1048.6,1628.2 1049.2,1628.8 1049.8,1628.4 1050.4,1628.7 1051,1628.5 1051.6,1628.5 1052.2,1628.8 1052.8,1628.9 1053.4,1628.7 1054,1628.8 1054.6,1628.6 1055.2,1628.7 1055.8,1629 1056.4,1628.4 1057,1628.9 1057.6,1628.5 1058.2,1628.6 1058.8,1628.7 1059.4,1628.4 1060,1628.7 1060.6,1628.7 1061.2,1629 1061.8,1628.8 1062.4,1628.9 1063,1628.8 1063.6,1629.2 1064.2,1628.7 1064.8,1628.6 1065.4,1628.4 1066,1628.5 1066.6,1628.7 1067.2,1628.7 1067.8,1629.2 1068.4,1628.7 1069,1628.7 1069.6,1629.1 1070.2,1629 1070.8,1628.9 1071.4,1628.3 1072,1628.6 1072.6,1628.6 1073.2,1629 1073.8,1629.1 1074.4,1628.6 1075,1628.9 1075.6,1629 1076.2,1628.7 1076.8,1628.7 1077.4,1629 1078,1628.8 1078.6,1628.5 1079.2,1628.7 1079.8,1628.7 1080.4,1628.6 1081,1628.6 1081.6,1628.7 1082.2,1628.4 1082.8,1628.5 1083.4,1628.6 1084,1628.4 1084.6,1628.4 1085.2,1628.5 1085.8,1628.9 1086.4,1628.5 1087,1629.1 1087.6,1628.5 1088.2,1628.5 1088.8,1628.7 1089.4,1628.8 1090,1628.7 1090.6,1628.8 1091.2,1628.7 1091.8,1628.8 1092.4,1628.7 1093,1628.4 1093.6,1628.3 1094.2,1628.4 1094.8,1628.5 1095.4,1628.8 1096,1628.6 1096.6,1629.1 1097.2,1628.7 1097.8,1628.5 1098.4,1628.4 1099,1628.6 1099.6,1628.9 1100.2,1628.6 1100.8,1628.7 1101.4,1628.5 1102,1628.3 1102.6,1628 1103.2,1628.7 1103.8,1628.6 1104.4,1628.9 1105,1628.9 1105.6,1628.5 1106.2,1628.8 1106.8,1628.6 1107.4,1628.4 1108,1628.6 1108.6,1628.7 1109.2,1628.9 1109.8,1628.5 1110.4,1628.4 1111,1628.5 1111.6,1629 1112.2,1628.7 1112.8,1628.6 1113.4,1628.5 1114,1628.6 1114.6,1628.6 1115.2,1628.4 1115.8,1628.7 1116.4,1629.1 1117,1628.7 1117.6,1628.5 1118.2,1628.8 1118.8,1628.7 1119.4,1629 1120,1628.6 1120.6,1629.2 1121.2,1628.7 1121.8,1629 1122.4,1628.6 1123,1628.7 1123.6,1628.8 1124.2,1628.5 1124.8,1629.1 1125.4,1628.2 1126,1628.8 1126.6,1628.4 1127.2,1628.7 1127.8,1628.6 1128.4,1628.8 1129,1628.8 1129.6,1628.5 1130.2,1628.7 1130.8,1628.2 1131.4,1628.6 1132,1629 1132.6,1629 1133.2,1629 1133.8,1628.7 1134.4,1628.9 1135,1628.4 1135.6,1628.6 1136.2,1628.5 1136.8,1628.5 1137.4,1628.4 1138,1628.9 1138.6,1628.9 1139.2,1628.3 1139.8,1628.7 1140.4,1628.7 1141,1628.7 1141.6,1628.5 1142.2,1628.6 1142.8,1628.7 1143.4,1628.2 1144,1628.5 1144.6,1628 1145.2,1628.2 1145.8,1628.4 1146.4,1627.9 1147,1627.4 1147.6,1626.4 1148.2,1625.5 1148.8,1623.8 1149.4,1622.9 1150,1624.1 1150.6,1626.1 1151.2,1626.8 1151.8,1627.6 1152.4,1627.6 1153,1627.7 1153.6,1628 1154.2,1628.3 1154.8,1628.3 1155.4,1628.8 1156,1628.5 1156.6,1628.8 1157.2,1628.7 1157.8,1628.7 1158.4,1628.9 1159,1628.7 1159.6,1628.5 1160.2,1628.4 1160.8,1628.4 1161.4,1628.5 1162,1628.9 1162.6,1629 1163.2,1628.2 1163.8,1628.4 1164.4,1628.7 1165,1628.4 1165.6,1628.9 1166.2,1628.6 1166.8,1628.6 1167.4,1628.4 1168,1628.5 1168.6,1628.9 1169.2,1628.2 1169.8,1629.2 1170.4,1628.7 1171,1628.5 1171.6,1628.8 1172.2,1628.3 1172.8,1628.6 1173.4,1628.7 1174,1628.9 1174.6,1628.5 1175.2,1628.6 1175.8,1628.7 1176.4,1628.6 1177,1629.2 1177.6,1628.9 1178.2,1628.7 1178.8,1628.7 1179.4,1628.9 1180,1628.8 1180.6,1628.9 1181.2,1629 1181.8,1628.9 1182.4,1628.3 1183,1627.8 1183.6,1628.8 1184.2,1628.9 1184.8,1628.7 1185.4,1628.6 1186,1628.7 1186.6,1628.4 1187.2,1629 1187.8,1628.4 1188.4,1629 1189,1628.7 1189.6,1628.5 1190.2,1628.6 1190.8,1628.9 1191.4,1628.7 1192,1628.8 1192.6,1628.6 1193.2,1628.6 1193.8,1628.8 1194.4,1628.1 1195,1629 1195.6,1628.3 1196.2,1628.6 1196.8,1628.5 1197.4,1628.5 1198,1628.9 1198.6,1628.5 1199.2,1628.6 1199.8,1629.4 1200.4,1628.9 1201,1628.5 1201.6,1628.7 1202.2,1628.7 1202.8,1628.8 1203.4,1628.5 1204,1628.5 1204.6,1629 1205.2,1628.7 1205.8,1628.5 1206.4,1628.9 1207,1628.8 1207.6,1629.1 1208.2,1628.5 1208.8,1629.3 1209.4,1628.6 1210,1629.2 1210.6,1628.5 1211.2,1628.3 1211.8,1628.6 1212.4,1628.9 1213,1629 1213.6,1628.7 1214.2,1628.7 1214.8,1629.1 1215.4,1628.8 1216,1628.2 1216.6,1629 1217.2,1628.6 1217.8,1628.6 1218.4,1628.6 1219,1628.7 1219.6,1628.4 1220.2,1628.3 1220.8,1628.7 1221.4,1628.2 1222,1628.5 1222.6,1628.8 1223.2,1628.7 1223.8,1628.8 1224.4,1628.8 1225,1628.2 1225.6,1629.2 1226.2,1628.6 1226.8,1628.6 1227.4,1628.9 1228,1628.8 1228.6,1628.5 1229.2,1628.4 1229.8,1628.4 1230.4,1628.6 1231,1628.8 1231.6,1628.4 1232.2,1628.5 1232.8,1629.2 1233.4,1628.3 1234,1628.8 1234.6,1628.4 1235.2,1628.5 1235.8,1628.3 1236.4,1628.6 1237,1629 1237.6,1628.9 1238.2,1628.5 1238.8,1628.7 1239.4,1628.3 1240,1628.7 1240.6,1628.9 1241.2,1628.5 1241.8,1628.8 1242.4,1628.6 1243,1628.7 1243.6,1628.6 1244.2,1628.3 1244.8,1629.2 1245.4,1629 1246,1628.5 1246.6,1628.5 1247.2,1628.8 1247.8,1628.9 1248.4,1628.7 1249,1628.3 1249.6,1628.8 1250.2,1628.7 1250.8,1628.7 1251.4,1629.1 1252,1628.7 1252.6,1628.8 1253.2,1628.8 1253.8,1628.9 1254.4,1628.6 1255,1629.1 1255.6,1628.6 1256.2,1628.8 1256.8,1629 1257.4,1628.8 1258,1628.5 1258.6,1629 1259.2,1628.7 1259.8,1628.8 1260.4,1628.7 1261,1628.7 1261.6,1628.7 1262.2,1628.7 1262.8,1628.7 1263.4,1628.6 1264,1629.2 1264.6,1629 1265.2,1628.5 1265.8,1628.5 1266.4,1629 1267,1629 1267.6,1628.4 1268.2,1629 1268.8,1628.7 1269.4,1628.5 1270,1628.7 1270.6,1628.9 1271.2,1628.9 1271.8,1629.4 1272.4,1628.8 1273,1628.7 1273.6,1629.1 1274.2,1628.9 1274.8,1628.8 1275.4,1628.7 1276,1628.4 1276.6,1628.8 1277.2,1628.4 1277.8,1628.8 1278.4,1628.8 1279,1628.6 1279.6,1628.7 1280.2,1628.8 1280.8,1628.6 1281.4,1628.5 1282,1628.4 1282.6,1628.7 1283.2,1629 1283.8,1628.7 1284.4,1628.6 1285,1628.5 1285.6,1628.4 1286.2,1629 1286.8,1628.6 1287.4,1628.6 1288,1628.6 1288.6,1628.6 1289.2,1628.7 1289.8,1628.6 1290.4,1628.7 1291,1628.7 1291.6,1629.1 1292.2,1628.5 1292.8,1629 1293.4,1628.6 1294,1628.5 1294.6,1629.1 1295.2,1628.8 1295.8,1628.6 1296.4,1628.5 1297,1628.6 1297.6,1628.3 1298.2,1629 1298.8,1628.5 1299.4,1628.9 1300,1628.6 1300.6,1628.8 1301.2,1628.6 1301.8,1628.3 1302.4,1628.7 1303,1628.6 1303.6,1628.8 1304.2,1628.6 1304.8,1629.2 1305.4,1628.1 1306,1628.5 1306.6,1628.5 1307.2,1628.3 1307.8,1628.4 1308.4,1628.5 1309,1629 1309.6,1629.1 1310.2,1629 1310.8,1628.5 1311.4,1628.9 1312,1628.9 1312.6,1628.8 1313.2,1629.1 1313.8,1628.6 1314.4,1628.8 1315,1629.2 1315.6,1629.1 1316.2,1628.5 1316.8,1629.1 1317.4,1628.9 1318,1628.9 1318.6,1628.6 1319.2,1628.6 1319.8,1628.5 1320.4,1628.3 1321,1629.1 1321.6,1628.8 1322.2,1628.7 1322.8,1628.3 1323.4,1628.4 1324,1629 1324.6,1628.5 1325.2,1628.8 1325.8,1628.3 1326.4,1628.8 1327,1628.9 1327.6,1628.6 1328.2,1628.4 1328.8,1629 1329.4,1628.9 1330,1628.9 1330.6,1628.6 1331.2,1628.7 1331.8,1628.9 1332.4,1628.4 1333,1628.6 1333.6,1628.4 1334.2,1628.6 1334.8,1628.5 1335.4,1628.8 1336,1628.9 1336.6,1628.4 1337.2,1629.4 1337.8,1628.7 1338.4,1628.9 1339,1628.5 1339.6,1628.9 1340.2,1628.6 1340.8,1628.6 1341.4,1628.5 1342,1628.9 1342.6,1629 1343.2,1628.8 1343.8,1629 1344.4,1628.6 1345,1628.4 1345.6,1628.7 1346.2,1628.4 1346.8,1628.7" fill="none" stroke-width="1.6" stroke-linejoin="round"/>
<text x="899.7" y="1665.2" font-size="11.5" text-anchor="middle" fill="#222"  stroke="none">10</text>
<text x="955.8" y="1665.2" font-size="11.5" text-anchor="middle" fill="#222"  stroke="none">20</text>
<text x="1011.9" y="1665.2" font-size="11.5" text-anchor="middle" fill="#222"  stroke="none">30</text>
<text x="1067.9" y="1665.2" font-size="11.5" text-anchor="middle" fill="#222"  stroke="none">40</text>
<text x="1124" y="1665.2" font-size="11.5" text-anchor="middle" fill="#222"  stroke="none">50</text>
<text x="1180.1" y="1665.2" font-size="11.5" text-anchor="middle" fill="#222"  stroke="none">60</text>
<text x="1236.2" y="1665.2" font-size="11.5" text-anchor="middle" fill="#222"  stroke="none">70</text>
<text x="1292.2" y="1665.2" font-size="11.5" text-anchor="middle" fill="#222"  stroke="none">80</text>
<text x="1348.3" y="1665.2" font-size="11.5" text-anchor="middle" fill="#222"  stroke="none">90</text>
<text x="57.6" y="38.6" font-size="20.9" textLength="26.6" lengthAdjust="spacingAndGlyphs" id="pa" style="stroke:#000;stroke-width:0.7px" stroke="none">(a)</text>
<text x="751.3" y="47.3" font-size="21.7" textLength="28.7" lengthAdjust="spacingAndGlyphs" id="pb" style="stroke:#000;stroke-width:0.7px" stroke="none">(b)</text>
<text x="60.4" y="946.3" font-size="21.7" textLength="26.6" lengthAdjust="spacingAndGlyphs" id="pc" style="stroke:#000;stroke-width:0.7px" stroke="none">(c)</text>
<text x="754.6" y="940.1" font-size="23.6" textLength="28.6" lengthAdjust="spacingAndGlyphs" id="pd" style="stroke:#000;stroke-width:0.7px" stroke="none">(d)</text>
<text x="598.3" y="72.5" font-size="23.1" font-weight="bold" textLength="62.8" lengthAdjust="spacingAndGlyphs" id="s100" stroke="none">100°C</text>
<text x="605" y="353.5" font-size="23.1" font-weight="bold" textLength="50.8" lengthAdjust="spacingAndGlyphs" id="s80" stroke="none">80°C</text>
<text x="593.6" y="636.3" font-size="23" font-weight="bold" textLength="49.8" lengthAdjust="spacingAndGlyphs" id="s60" stroke="none">60°C</text>
<text x="1294.5" y="101.1" font-size="22.9" font-weight="bold" textLength="43.3" lengthAdjust="spacingAndGlyphs" id="s50" stroke="none">50%</text>
<text x="1285.1" y="355.3" font-size="25.2" font-weight="bold" textLength="43.4" lengthAdjust="spacingAndGlyphs" id="s25" stroke="none">25%</text>
<text x="1287.1" y="638.5" font-size="23.6" font-weight="bold" textLength="43.3" lengthAdjust="spacingAndGlyphs" id="s10" stroke="none">10%</text>
<text x="624.8" y="969.7" font-size="22.3" font-weight="bold" textLength="33.4" lengthAdjust="spacingAndGlyphs" id="h6" stroke="none">6 h</text>
<text x="620.2" y="1192.1" font-size="22.7" font-weight="bold" textLength="33.3" lengthAdjust="spacingAndGlyphs" id="h4" stroke="none">4 h</text>
<text x="618.8" y="1397.4" font-size="23.7" font-weight="bold" textLength="32.9" lengthAdjust="spacingAndGlyphs" id="h2" stroke="none">2 h</text>
<text x="635.4" y="1612.6" font-size="22.9" font-weight="bold" textLength="33.4" lengthAdjust="spacingAndGlyphs" id="h1" stroke="none">1 h</text>
<text x="1318" y="1242.2" font-size="23.1" font-weight="bold" textLength="42.9" lengthAdjust="spacingAndGlyphs" id="rgo" stroke="none">rGO</text>
<text x="1325.4" y="1718.9" font-size="24.4" font-weight="bold" textLength="34.4" lengthAdjust="spacingAndGlyphs" id="go" stroke="none">GO</text>
<text x="1248.6" y="1579.2" font-size="15.5" font-weight="bold" textLength="62.6" lengthAdjust="spacingAndGlyphs" id="graph" stroke="none">Graphite</text>
<text x="126.5" y="63.9" font-size="19.6" font-weight="bold" textLength="50" lengthAdjust="spacingAndGlyphs" id="k1" stroke="none">22.02</text>
<text x="137.9" y="394.3" font-size="18.8" font-weight="bold" textLength="49.5" lengthAdjust="spacingAndGlyphs" id="k2" stroke="none">20.15</text>
<text x="130.2" y="676.7" font-size="21" font-weight="bold" textLength="49.1" lengthAdjust="spacingAndGlyphs" id="k3" stroke="none">18.65</text>
<text x="829.9" y="70.2" font-size="21" font-weight="bold" textLength="50.1" lengthAdjust="spacingAndGlyphs" id="k4" stroke="none">21.82</text>
<text x="832" y="367.7" font-size="21" font-weight="bold" textLength="48.6" lengthAdjust="spacingAndGlyphs" id="k5" stroke="none">21.28</text>
<text x="831.8" y="641.5" font-size="18.1" font-weight="bold" textLength="48.9" lengthAdjust="spacingAndGlyphs" id="k6" stroke="none">21.09</text>
<text x="137.5" y="942.1" font-size="20.9" font-weight="bold" textLength="50.1" lengthAdjust="spacingAndGlyphs" id="k7" stroke="none">22.12</text>
<text x="129.7" y="1158.3" font-size="18.8" font-weight="bold" textLength="50" lengthAdjust="spacingAndGlyphs" id="k8" stroke="none">21.41</text>
<text x="128.6" y="1394.7" font-size="21" font-weight="bold" textLength="49.1" lengthAdjust="spacingAndGlyphs" id="k9" stroke="none">21.64</text>
<text x="126.8" y="1598.1" font-size="21" font-weight="bold" textLength="50.6" lengthAdjust="spacingAndGlyphs" id="k10" stroke="none">21.54</text>
<text x="839.5" y="989.4" font-size="17.6" font-weight="bold" textLength="41.4" lengthAdjust="spacingAndGlyphs" id="k11" stroke="none">22.12</text>
<text x="757.3" y="1376.5" font-size="16.7" font-weight="bold" textLength="42.8" lengthAdjust="spacingAndGlyphs" id="k12" stroke="none">10.09</text>
<text x="962.7" y="1385.5" font-size="19.4" font-weight="bold" textLength="46.1" lengthAdjust="spacingAndGlyphs" id="k13" stroke="none">26.49</text>
<text id="ya1" transform="translate(32 234.4) rotate(-90)" font-size="28.7" font-weight="bold" textLength="191" lengthAdjust="spacingAndGlyphs" stroke="none">Intensity (a.u.)</text>
<text id="ya2" transform="translate(31.9 529.4) rotate(-90)" font-size="28.7" font-weight="bold" textLength="191.5" lengthAdjust="spacingAndGlyphs" stroke="none">Intensity (a.u.)</text>
<text id="ya3" transform="translate(31.9 804.2) rotate(-90)" font-size="28.7" font-weight="bold" textLength="191" lengthAdjust="spacingAndGlyphs" stroke="none">Intensity (a.u.)</text>
<text id="yb1" transform="translate(726.3 229.5) rotate(-90)" font-size="27.2" font-weight="bold" textLength="188.5" lengthAdjust="spacingAndGlyphs" stroke="none">Intensity (a.u.)</text>
<text id="yb2" transform="translate(723 512.2) rotate(-90)" font-size="27.1" font-weight="bold" textLength="188.5" lengthAdjust="spacingAndGlyphs" stroke="none">Intensity (a.u.)</text>
<text id="yb3" transform="translate(723.4 803.2) rotate(-90)" font-size="28.6" font-weight="bold" textLength="188.5" lengthAdjust="spacingAndGlyphs" stroke="none">Intensity (a.u.)</text>
<text id="yc1" transform="translate(31.1 1107.4) rotate(-90)" font-size="27.6" font-weight="bold" textLength="192" lengthAdjust="spacingAndGlyphs" stroke="none">Intensity (a.u.)</text>
<text id="yc2" transform="translate(32.8 1331.3) rotate(-90)" font-size="27.2" font-weight="bold" textLength="194" lengthAdjust="spacingAndGlyphs" stroke="none">Intensity (a.u.)</text>
<text id="yc3" transform="translate(31.1 1553.3) rotate(-90)" font-size="26.6" font-weight="bold" textLength="193.5" lengthAdjust="spacingAndGlyphs" stroke="none">Intensity (a.u.)</text>
<text id="yc4" transform="translate(28.1 1765.9) rotate(-90)" font-size="26.6" font-weight="bold" textLength="192" lengthAdjust="spacingAndGlyphs" stroke="none">Intensity (a.u.)</text>
<text id="yd1" transform="translate(732.8 1218.6) rotate(-90)" font-size="30.3" font-weight="bold" textLength="205.5" lengthAdjust="spacingAndGlyphs" stroke="none">Intensity (a.u)</text>
<text id="yd2" transform="translate(727.4 1646.5) rotate(-90)" font-size="29.7" font-weight="bold" textLength="205" lengthAdjust="spacingAndGlyphs" stroke="none">Intensity (a.u)</text>
<text id="yin" transform="translate(865.4 1514.3) rotate(-90)" font-size="13" font-weight="bold" textLength="96.1" lengthAdjust="spacingAndGlyphs" stroke="none">Intensity (a.u.)</text>
<circle cx="179.9" cy="55.5" r="2" fill="none" stroke="#333" stroke-width="0.9"/>
<circle cx="191.3" cy="386.2" r="2" fill="none" stroke="#333" stroke-width="0.9"/>
<circle cx="182.7" cy="667" r="2" fill="none" stroke="#333" stroke-width="0.9"/>
<circle cx="883" cy="61.3" r="2.3" fill="none" stroke="#333" stroke-width="0.9"/>
<circle cx="884.6" cy="359.7" r="2" fill="none" stroke="#333" stroke-width="0.9"/>
<circle cx="884.6" cy="634" r="2" fill="none" stroke="#333" stroke-width="0.9"/>
<circle cx="191.9" cy="933.1" r="2.2" fill="none" stroke="#333" stroke-width="0.9"/>
<circle cx="181.5" cy="1150.5" r="2" fill="none" stroke="#333" stroke-width="0.9"/>
<circle cx="180.4" cy="1386" r="2" fill="none" stroke="#333" stroke-width="0.9"/>
<circle cx="180.4" cy="1588.5" r="2" fill="none" stroke="#333" stroke-width="0.9"/>
<circle cx="884.7" cy="981.1" r="1.9" fill="none" stroke="#333" stroke-width="0.9"/>
<circle cx="802.5" cy="1367.5" r="1.9" fill="none" stroke="#333" stroke-width="0.9"/>
<line x1="1009.6" y1="1374" x2="1012.8" y2="1374" stroke-width="0.8"/>
<text x="67.7" y="861.4" font-size="17" font-weight="bold" text-anchor="middle"  stroke="none">10</text>
<text x="145.2" y="861.4" font-size="17" font-weight="bold" text-anchor="middle"  stroke="none">20</text>
<text x="222.7" y="861.4" font-size="17" font-weight="bold" text-anchor="middle"  stroke="none">30</text>
<text x="300.2" y="861.4" font-size="17" font-weight="bold" text-anchor="middle"  stroke="none">40</text>
<text x="377.7" y="861.4" font-size="17" font-weight="bold" text-anchor="middle"  stroke="none">50</text>
<text x="455.2" y="861.4" font-size="17" font-weight="bold" text-anchor="middle"  stroke="none">60</text>
<text x="532.7" y="861.4" font-size="17" font-weight="bold" text-anchor="middle"  stroke="none">70</text>
<text x="610.2" y="861.4" font-size="17" font-weight="bold" text-anchor="middle"  stroke="none">80</text>
<text x="687.7" y="861.4" font-size="17" font-weight="bold" text-anchor="middle"  stroke="none">90</text>
<text x="760.4" y="861.7" font-size="17" font-weight="bold" text-anchor="middle"  stroke="none">10</text>
<text x="837.1" y="861.7" font-size="17" font-weight="bold" text-anchor="middle"  stroke="none">20</text>
<text x="913.8" y="861.7" font-size="17" font-weight="bold" text-anchor="middle"  stroke="none">30</text>
<text x="990.5" y="861.7" font-size="17" font-weight="bold" text-anchor="middle"  stroke="none">40</text>
<text x="1067.2" y="861.7" font-size="17" font-weight="bold" text-anchor="middle"  stroke="none">50</text>
<text x="1143.9" y="861.7" font-size="17" font-weight="bold" text-anchor="middle"  stroke="none">60</text>
<text x="1220.6" y="861.7" font-size="17" font-weight="bold" text-anchor="middle"  stroke="none">70</text>
<text x="1297.3" y="861.7" font-size="17" font-weight="bold" text-anchor="middle"  stroke="none">80</text>
<text x="1374" y="861.7" font-size="17" font-weight="bold" text-anchor="middle"  stroke="none">90</text>
<text x="64" y="1793.6" font-size="18" font-weight="bold" text-anchor="middle"  stroke="none">10</text>
<text x="142" y="1793.6" font-size="18" font-weight="bold" text-anchor="middle"  stroke="none">20</text>
<text x="220" y="1793.6" font-size="18" font-weight="bold" text-anchor="middle"  stroke="none">30</text>
<text x="298" y="1793.6" font-size="18" font-weight="bold" text-anchor="middle"  stroke="none">40</text>
<text x="376" y="1793.6" font-size="18" font-weight="bold" text-anchor="middle"  stroke="none">50</text>
<text x="454" y="1793.6" font-size="18" font-weight="bold" text-anchor="middle"  stroke="none">60</text>
<text x="532" y="1793.6" font-size="18" font-weight="bold" text-anchor="middle"  stroke="none">70</text>
<text x="610" y="1793.6" font-size="18" font-weight="bold" text-anchor="middle"  stroke="none">80</text>
<text x="688" y="1793.6" font-size="18" font-weight="bold" text-anchor="middle"  stroke="none">90</text>
<text x="766.7" y="1794.7" font-size="17" font-weight="bold" text-anchor="middle"  stroke="none">10</text>
<text x="842.7" y="1794.7" font-size="17" font-weight="bold" text-anchor="middle"  stroke="none">20</text>
<text x="918.7" y="1794.7" font-size="17" font-weight="bold" text-anchor="middle"  stroke="none">30</text>
<text x="994.7" y="1794.7" font-size="17" font-weight="bold" text-anchor="middle"  stroke="none">40</text>
<text x="1070.7" y="1794.7" font-size="17" font-weight="bold" text-anchor="middle"  stroke="none">50</text>
<text x="1146.7" y="1794.7" font-size="17" font-weight="bold" text-anchor="middle"  stroke="none">60</text>
<text x="1222.7" y="1794.7" font-size="17" font-weight="bold" text-anchor="middle"  stroke="none">70</text>
<text x="1298.7" y="1794.7" font-size="17" font-weight="bold" text-anchor="middle"  stroke="none">80</text>
<text x="1374.7" y="1794.7" font-size="17" font-weight="bold" text-anchor="middle"  stroke="none">90</text>
<text x="271.7" y="897.8" font-size="29.3" font-weight="bold"  stroke="none">2</text>
<ellipse cx="294.9" cy="887.9" rx="5.1" ry="8.9" fill="none" stroke-width="1.9"/>
<line x1="289.8" y1="887.9" x2="300" y2="887.9" stroke-width="1"/>
<path d="M317.8,876.9 Q307.2,890.4 317.8,903.9" fill="none" stroke-width="1.7"/>
<path d="M334.6,876.9 Q345.2,890.4 334.6,903.9" fill="none" stroke-width="1.7"/>
<circle cx="325.5" cy="881.2" r="3.9" fill="none" stroke-width="1.3"/>
<text x="966.1" y="896" font-size="27.9" font-weight="bold"  stroke="none">2</text>
<ellipse cx="989" cy="886.5" rx="5.3" ry="8.6" fill="none" stroke-width="1.9"/>
<line x1="983.7" y1="886.5" x2="994.3" y2="886.5" stroke-width="1"/>
<path d="M1011.7,875.8 Q1001.1,888.8 1011.7,901.7" fill="none" stroke-width="1.7"/>
<path d="M1028.2,875.8 Q1038.8,888.8 1028.2,901.7" fill="none" stroke-width="1.7"/>
<circle cx="1019.4" cy="880" r="4" fill="none" stroke-width="1.3"/>
<text x="276.8" y="1836" font-size="27.1" font-weight="bold"  stroke="none">2</text>
<ellipse cx="300.5" cy="1827" rx="5.4" ry="8.6" fill="none" stroke-width="1.9"/>
<line x1="295.2" y1="1827" x2="305.8" y2="1827" stroke-width="1"/>
<path d="M322.8,1816.3 Q312.2,1829.2 322.8,1842.2" fill="none" stroke-width="1.7"/>
<path d="M340.4,1816.3 Q351,1829.2 340.4,1842.2" fill="none" stroke-width="1.7"/>
<circle cx="331" cy="1821.6" r="3.9" fill="none" stroke-width="1.3"/>
<text x="1001" y="1828.8" font-size="29.3" font-weight="bold"  stroke="none">2</text>
<ellipse cx="1024" cy="1818.8" rx="5" ry="9.1" fill="none" stroke-width="1.9"/>
<line x1="1019.1" y1="1818.8" x2="1029" y2="1818.8" stroke-width="1"/>
<path d="M1046.8,1807.6 Q1036.2,1821.3 1046.8,1835" fill="none" stroke-width="1.7"/>
<path d="M1063.2,1807.6 Q1073.8,1821.3 1063.2,1835" fill="none" stroke-width="1.7"/>
<circle cx="1053.9" cy="1812.1" r="4.2" fill="none" stroke-width="1.3"/>
<text x="1092.5" y="1693" font-size="13" stroke="none"><tspan font-weight="bold">2</tspan><tspan font-family="Liberation Serif">&#952;</tspan> (&#176;)</text>
</svg>
</body></html>
